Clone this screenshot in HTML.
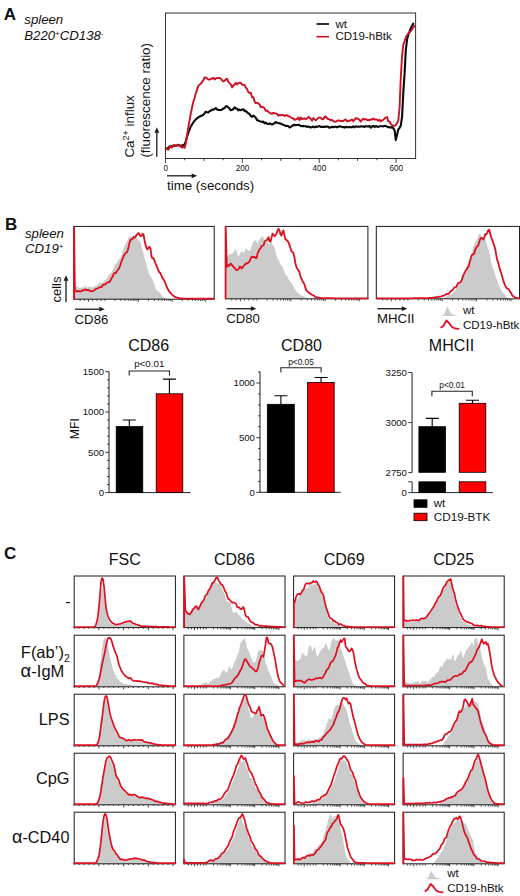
<!DOCTYPE html>
<html><head><meta charset="utf-8"><title>Figure</title>
<style>
html,body{margin:0;padding:0;background:#fff;}
body{width:520px;height:896px;overflow:hidden;font-family:"Liberation Sans",sans-serif;}
svg{display:block;font-family:"Liberation Sans",sans-serif;}
svg text{fill:#111;}
</style></head>
<body>
<svg width="520" height="896" viewBox="0 0 520 896">
<rect x="0" y="0" width="520" height="896" fill="#ffffff"/>
<text x="3.8" y="20" font-size="17" text-anchor="start" font-weight="bold" font-style="normal" >A</text>
<text x="24.3" y="23.6" font-size="13.2" text-anchor="start" font-weight="normal" font-style="italic" >spleen</text>
<text x="24.3" y="40.2" font-size="13.2" text-anchor="start" font-weight="normal" font-style="italic" >B220<tspan font-size="8" dy="-4.5">+</tspan><tspan dy="4.5">CD138</tspan><tspan font-size="8" dy="-4.5">-</tspan></text>
<path d="M165.8 148.7 L167.1 148.4 L168.3 147.7 L169.6 146.4 L170.8 146.6 L172.1 146 L173.3 145.9 L174.6 145.5 L175.8 145.7 L177.1 145.3 L178.3 144.8 L179.6 145.7 L180.8 145.6 L182.1 145.8 L183.3 144.9 L184.6 144.4 L185.8 141.5 L187.1 136.7 L188.3 132.9 L189.6 129.7 L190.8 126.5 L192.1 124.4 L193.3 122.5 L194.6 120.7 L195.8 119.4 L197.1 118.3 L198.3 117.3 L199.6 116.7 L200.8 115.8 L202.1 115.6 L203.3 114.7 L204.6 113.5 L205.8 111.7 L207.1 112.3 L208.3 112.5 L209.6 111.1 L210.8 110.7 L212.1 109.5 L213.3 109.8 L214.6 109 L215.8 108 L217.1 109.6 L218.3 109.9 L219.6 110 L220.8 110.2 L222.1 109.5 L223.3 108.6 L224.6 108.1 L225.8 106.2 L227.1 106.2 L228.3 107.4 L229.6 108.7 L230.8 110.3 L232.1 109.8 L233.3 109.2 L234.6 107.3 L235.8 108.6 L237.1 108.6 L238.3 110.4 L239.6 109.6 L240.8 110.2 L242.1 109.6 L243.3 109.2 L244.6 111.1 L245.8 110.9 L247.1 112.2 L248.3 113.4 L249.6 114.1 L250.8 116 L252.1 116.9 L253.3 115.5 L254.6 116.5 L255.8 117.7 L257.1 120.2 L258.3 120.5 L259.6 121.1 L260.8 121.6 L262.1 121.9 L263.3 121.6 L264.6 123.3 L265.8 122.5 L267.1 123.7 L268.3 124 L269.6 123.4 L270.8 124 L272.1 124.5 L273.3 123.8 L274.6 123.2 L275.8 122 L277.1 122.7 L278.3 123 L279.6 123.4 L280.8 123.6 L282.1 124.5 L283.3 124.6 L284.6 125.3 L285.8 126 L287.1 125.7 L288.3 126.3 L289.6 127.5 L290.8 126.9 L292.1 125.9 L293.3 125.1 L294.6 124.9 L295.8 125.3 L297.1 125 L298.3 124.9 L299.6 125.1 L300.8 126 L302.1 126.1 L303.3 125.9 L304.6 126.2 L305.8 126.3 L307.1 126.9 L308.3 126.5 L309.6 127.2 L310.8 127.4 L312.1 127.1 L313.3 126.5 L314.6 127.4 L315.8 126.5 L317.1 126.9 L318.3 126.4 L319.6 126 L320.8 126.9 L322.1 126.9 L323.3 126.8 L324.6 126.9 L325.8 126.6 L327.1 126.5 L328.3 126.8 L329.6 127.8 L330.8 127.3 L332.1 126.7 L333.3 127.2 L334.6 126.8 L335.8 126.8 L337.1 127.4 L338.3 126.8 L339.6 126.2 L340.8 126.6 L342.1 127 L343.3 127.1 L344.6 127.6 L345.8 126.7 L347.1 127.3 L348.3 127.2 L349.6 126.9 L350.8 127.3 L352.1 127.1 L353.3 126.4 L354.6 127.3 L355.8 126.2 L357.1 126.7 L358.3 126.6 L359.6 126.7 L360.8 126.2 L362.1 126.5 L363.3 126.4 L364.6 126.9 L365.8 126.1 L367.1 126.5 L368.3 126.4 L369.6 125.9 L370.8 127.7 L372.1 126.5 L373.3 125.8 L374.6 127.1 L375.8 126 L377.1 126.7 L378.3 126.9 L379.6 126.2 L380.8 126.3 L382.1 126.3 L383.3 126.4 L384.6 125.8 L385.8 126 L387.1 126.6 L388.3 127.2 L389.6 127.1 L390.8 127.7 L392.1 127 L393.3 128.2 L394.6 130.4 L395.8 140.1 L397.1 134.5 L398.3 129.5 L399.6 127.8 L400.8 125.5 L402.1 116.5 L403.3 92.6 L404.6 73.2 L405.8 50.1 L407.1 39.2 L408.3 34.7 L409.6 31.4 L410.8 28 L412.1 25.8 L413.2 23.7" fill="none" stroke="#0a0a0a" stroke-width="2.1" stroke-linejoin="round" stroke-linecap="round"/>
<path d="M165.8 149.5 L167.1 148.5 L168.3 149.8 L169.6 147.1 L170.8 146.8 L172.1 147.6 L173.3 145.3 L174.6 145.2 L175.8 145.8 L177.1 145.5 L178.3 145.1 L179.6 146 L180.8 146.3 L182.1 147.7 L183.3 146.6 L184.6 147.9 L185.8 143.2 L187.1 134.7 L188.3 127.4 L189.6 120.1 L190.8 113.5 L192.1 107.2 L193.3 102.1 L194.6 97.7 L195.8 93.2 L197.1 89.6 L198.3 86.1 L199.6 84.5 L200.8 83.8 L202.1 81.9 L203.3 80.4 L204.6 77.3 L205.8 77.6 L207.1 78.6 L208.3 79.6 L209.6 79.6 L210.8 78.8 L212.1 78.8 L213.3 77.7 L214.6 79.4 L215.8 78.4 L217.1 78 L218.3 78.1 L219.6 77.9 L220.8 78.5 L222.1 80.4 L223.3 81.5 L224.6 80.8 L225.8 79.3 L227.1 78.7 L228.3 81.9 L229.6 83.1 L230.8 84.4 L232.1 87.4 L233.3 85.4 L234.6 84.6 L235.8 82.8 L237.1 84.5 L238.3 83.2 L239.6 82.6 L240.8 82.7 L242.1 84.7 L243.3 84.6 L244.6 85.1 L245.8 87.7 L247.1 89.2 L248.3 92 L249.6 93 L250.8 92.7 L252.1 97.3 L253.3 97.1 L254.6 101.5 L255.8 103.2 L257.1 102.7 L258.3 103.4 L259.6 104.5 L260.8 107.1 L262.1 107 L263.3 107.3 L264.6 108.3 L265.8 110.9 L267.1 110.5 L268.3 111.8 L269.6 112.7 L270.8 113.5 L272.1 113.8 L273.3 112.8 L274.6 113.4 L275.8 113.4 L277.1 113.9 L278.3 115.7 L279.6 115 L280.8 115.4 L282.1 115 L283.3 115.1 L284.6 116.1 L285.8 115.2 L287.1 115.3 L288.3 116.2 L289.6 116.3 L290.8 117.5 L292.1 118.3 L293.3 118.3 L294.6 120 L295.8 119.3 L297.1 119 L298.3 117.5 L299.6 120.2 L300.8 117.5 L302.1 119.2 L303.3 118.7 L304.6 118.3 L305.8 119.3 L307.1 118.5 L308.3 116.9 L309.6 117.8 L310.8 119.2 L312.1 120.7 L313.3 118.1 L314.6 119.4 L315.8 120.3 L317.1 119.1 L318.3 117.9 L319.6 117.4 L320.8 117.8 L322.1 119.2 L323.3 119.2 L324.6 116.8 L325.8 116.4 L327.1 118.5 L328.3 118.9 L329.6 119.6 L330.8 120.2 L332.1 119.9 L333.3 121.2 L334.6 121.7 L335.8 121.9 L337.1 120.6 L338.3 120.4 L339.6 120.7 L340.8 121 L342.1 121 L343.3 121.1 L344.6 119.9 L345.8 119.4 L347.1 121.4 L348.3 120.8 L349.6 120.9 L350.8 120.1 L352.1 119.5 L353.3 121.2 L354.6 119.9 L355.8 118.1 L357.1 118.5 L358.3 118.9 L359.6 120 L360.8 121.6 L362.1 119.8 L363.3 118.7 L364.6 119.6 L365.8 119.1 L367.1 120.1 L368.3 120 L369.6 120.2 L370.8 119.3 L372.1 119.6 L373.3 118.5 L374.6 119.5 L375.8 119.5 L377.1 119.4 L378.3 120.8 L379.6 119.8 L380.8 121.3 L382.1 120.4 L383.3 119.8 L384.6 118.6 L385.8 117.6 L387.1 117.1 L388.3 121.4 L389.6 121.4 L390.8 124.2 L392.1 125 L393.3 125.7 L394.6 125.9 L395.8 124.9 L397.1 123.1 L398.3 120.5 L399.6 107 L400.8 77.5 L402.1 55.3 L403.3 44.6 L404.6 41 L405.8 37.5 L407.1 35.1 L408.3 33.7 L409.6 32.4 L410.8 31 L412.1 29.3 L413.3 27.5 L414.6 25.8 L414.6 25.7" fill="none" stroke="#cc1122" stroke-width="1.9" stroke-linejoin="round" stroke-linecap="round"/>
<rect x="165.5" y="13" width="250.1" height="145.5" fill="none" stroke="#333" stroke-width="1"/>
<path d="M165.5 158.5v4.4M184.7 158.5v1.8M203.9 158.5v2.4M223.1 158.5v1.8M242.4 158.5v4.4M261.6 158.5v1.8M280.8 158.5v2.4M300 158.5v1.8M319.2 158.5v4.4M338.4 158.5v1.8M357.6 158.5v2.4M376.9 158.5v1.8M396.1 158.5v4.4" stroke="#333" stroke-width="0.9" fill="none"/>
<text x="165.7" y="171.2" font-size="8.2" text-anchor="middle" font-weight="normal" font-style="normal" fill="#222">0</text>
<text x="242.6" y="171.2" font-size="8.2" text-anchor="middle" font-weight="normal" font-style="normal" fill="#222">200</text>
<text x="319.4" y="171.2" font-size="8.2" text-anchor="middle" font-weight="normal" font-style="normal" fill="#222">400</text>
<text x="396.3" y="171.2" font-size="8.2" text-anchor="middle" font-weight="normal" font-style="normal" fill="#222">600</text>
<path d="M316.5 24H329" stroke="#0a0a0a" stroke-width="1.7"/>
<path d="M316.5 36.7H329" stroke="#cc1122" stroke-width="1.6"/>
<text x="335.5" y="27.5" font-size="11.5" text-anchor="start" font-weight="normal" font-style="normal" >wt</text>
<text x="335.5" y="40.3" font-size="11.5" text-anchor="start" font-weight="normal" font-style="normal" >CD19-hBtk</text>
<text transform="translate(133.6,157.6) rotate(-90)" font-size="13.4">Ca<tspan font-size="9" dy="-4.5">2+</tspan><tspan dy="4.5"> influx</tspan></text>
<text transform="translate(149.6,157.6) rotate(-90)" font-size="13.4">(fluorescence ratio)</text>
<path d="M156.8 156.8V131.7" stroke="#1a1a1a" stroke-width="1.3" fill="none"/>
<path d="M156.8 127.2L154.4 132.7L159.2 132.7Z" fill="#1a1a1a"/>
<path d="M167 175.8H192.7" stroke="#1a1a1a" stroke-width="1.3" fill="none"/>
<path d="M197.2 175.8L191.7 173.4L191.7 178.2Z" fill="#1a1a1a"/>
<text x="167" y="189.6" font-size="13.3" text-anchor="start" font-weight="normal" font-style="normal" >time (seconds)</text>
<text x="5" y="229.8" font-size="17" text-anchor="start" font-weight="bold" font-style="normal" >B</text>
<text x="25" y="237.7" font-size="13.2" text-anchor="start" font-weight="normal" font-style="italic" >spleen</text>
<text x="25" y="253" font-size="13.2" text-anchor="start" font-weight="normal" font-style="italic" >CD19<tspan font-size="8" dy="-4.5">+</tspan></text>
<text transform="translate(60.5,302.5) rotate(-90)" font-size="13">cells</text>
<path d="M66 302.3V279.7" stroke="#1a1a1a" stroke-width="1.3" fill="none"/>
<path d="M66 275.2L63.6 280.7L68.4 280.7Z" fill="#1a1a1a"/>
<path d="M74.6 299.2 L74.6 286.9 L75.6 287.1 L76.6 285.9 L77.6 286.4 L78.6 287.4 L79.6 287.9 L80.6 288.3 L81.6 287.1 L82.5 287.4 L83.5 287.7 L84.5 286.2 L85.5 285.6 L86.5 287.4 L87.5 287.5 L88.5 286.4 L89.5 287 L90.5 286.7 L91.5 287 L92.5 287.3 L93.5 287.2 L94.5 286.8 L95.5 285.8 L96.5 285.4 L97.5 285 L98.4 283.7 L99.4 282.8 L100.4 282.5 L101.4 283.3 L102.4 282.6 L103.4 281.6 L104.4 280.5 L105.4 279.4 L106.4 279.3 L107.4 277.6 L108.4 275.3 L109.4 274.6 L110.4 273.7 L111.4 272.5 L112.4 270.5 L113.4 268.7 L114.3 265.6 L115.3 263.8 L116.3 263.8 L117.3 261.8 L118.3 259.9 L119.3 258.9 L120.3 257.7 L121.3 255.4 L122.3 252.4 L123.3 249.3 L124.3 245.9 L125.3 243.9 L126.3 242.6 L127.3 241.2 L128.3 238.1 L129.3 237 L130.2 236.2 L131.2 236.6 L132.2 236.8 L133.2 236.4 L134.2 235.9 L135.2 235.4 L136.2 234.9 L137.2 237.3 L138.2 240 L139.2 240.8 L140.2 241.4 L141.2 244.7 L142.2 249.1 L143.2 252.9 L144.2 256.5 L145.2 260.6 L146.2 263.5 L147.1 267.4 L148.1 270.4 L149.1 273.7 L150.1 275.9 L151.1 277.1 L152.1 278.6 L153.1 281.1 L154.1 283.8 L155.1 286.7 L156.1 289.5 L157.1 290.7 L158.1 291 L159.1 292 L160.1 293 L161.1 294.3 L162.1 295.9 L163 297.1 L164 297.2 L165 297.8 L166 298.2 L167 298.5 L168 298.8 L169 298.9 L170 298.9 L170 299.2 Z" fill="#cbcbcb" stroke="none"/>
<path d="M88.5 299.5v2.2M138.4 299.5v2.2M172.1 299.5v2.2M205.8 299.5v2.2M114.9 299.5v1.4M120.8 299.5v1.4M125 299.5v1.4M128.3 299.5v1.4M130.9 299.5v1.4M133.2 299.5v1.4M135.1 299.5v1.4M136.8 299.5v1.4M148.5 299.5v1.4M154.4 299.5v1.4M158.6 299.5v1.4M161.9 299.5v1.4M164.5 299.5v1.4M166.8 299.5v1.4M168.8 299.5v1.4M170.5 299.5v1.4M182.2 299.5v1.4M188.1 299.5v1.4M192.3 299.5v1.4M195.6 299.5v1.4M198.2 299.5v1.4M200.5 299.5v1.4M202.4 299.5v1.4M204.2 299.5v1.4M92.8 299.5v1.4M97 299.5v1.4M101.2 299.5v1.4M104.8 299.5v1.4M84.3 299.5v1.4M80.1 299.5v1.4" stroke="#111" stroke-width="0.8" fill="none"/>
<rect x="73.8" y="226.4" width="140.4" height="72.8" fill="none" stroke="#1a1a1a" stroke-width="1"/>
<path d="M74.1 298.9 L74.1 226.8 L74.9 291.1 L75.9 290.9 L76.9 291.7 L77.9 291.1 L78.9 290.9 L79.9 291.7 L80.9 291.4 L81.9 290.4 L82.9 290.8 L83.9 290.1 L84.9 289.6 L85.8 289.5 L86.8 290.4 L87.8 290 L88.8 290.2 L89.8 290.9 L90.8 291 L91.8 291.3 L92.8 291.3 L93.8 290.6 L94.8 289.8 L95.8 288.8 L96.8 288.7 L97.8 288.4 L98.8 287.8 L99.8 287.2 L100.8 287.1 L101.8 286.8 L102.8 285 L103.8 284.5 L104.8 284.6 L105.7 283.8 L106.7 283.2 L107.7 282.3 L108.7 282 L109.7 281.9 L110.7 280 L111.7 278 L112.7 276.6 L113.7 273.9 L114.7 272.8 L115.7 273.2 L116.7 271.6 L117.7 269.9 L118.7 268.8 L119.7 266.9 L120.7 264 L121.7 261 L122.7 258.7 L123.7 256 L124.7 254.2 L125.6 253.1 L126.6 252.5 L127.6 250.6 L128.6 246.9 L129.6 242.6 L130.6 239.9 L131.6 239.4 L132.6 238.9 L133.6 236.9 L134.6 237.7 L135.6 236.5 L136.6 234.6 L137.6 234.1 L138.6 233 L139.6 234.9 L140.6 236.2 L141.6 235.9 L142.6 233.6 L143.6 234.8 L144.6 240.6 L145.5 244.9 L146.5 248 L147.5 249.4 L148.5 247.9 L149.5 246.6 L150.5 248.5 L151.5 256.6 L152.5 258.4 L153.5 258.2 L154.5 260.6 L155.5 263.3 L156.5 265.7 L157.5 268.2 L158.5 270.7 L159.5 272.5 L160.5 273.3 L161.5 275.7 L162.5 278.1 L163.5 279.4 L164.4 280.8 L165.4 283.3 L166.4 286 L167.4 288.2 L168.4 290 L169.4 291.9 L170.4 292.5 L171.4 293.9 L172.4 294.9 L173.4 295.8 L174.4 296.4 L175.4 297.2 L176.4 297.5 L177.4 297.7 L178.4 298 L179.4 298.2 L180.4 298.3 L181.4 298.4 L182.4 298.5 L183.4 298.6 L184.3 298.6 L185.3 298.6 L186.3 298.6 L187.3 298.6 L188.3 298.6 L189.3 298.6 L190.3 298.6 L191.3 298.6 L192.3 298.6 L193.3 298.6 L194.3 298.6 L195.3 298.6 L196.3 298.6 L197.3 298.6 L198.3 298.6 L199.3 298.6 L200.3 298.6 L201.3 298.6 L202.3 298.6 L203.3 298.6 L204.2 298.6 L205.2 298.6 L206.2 298.6 L207.2 298.6 L208.2 298.6 L209.2 298.6 L210.2 298.6 L211.2 298.6 L212.2 298.6 L213.2 298.6 L214.2 298.6" fill="none" stroke="#dd0f20" stroke-width="1.8" stroke-linejoin="round" stroke-linecap="round"/>
<path d="M226.8 298.8 L226.8 257.6 L227.8 256.1 L228.8 254.6 L229.8 253.9 L230.8 254.2 L231.8 253.4 L232.7 253.6 L233.7 251.4 L234.7 250.1 L235.7 249.8 L236.7 251 L237.7 255.3 L238.7 256.6 L239.7 254.3 L240.7 252 L241.7 251 L242.7 252.4 L243.6 252.4 L244.6 251.8 L245.6 248.8 L246.6 248.4 L247.6 250.5 L248.6 250.5 L249.6 251.3 L250.6 248.9 L251.6 246.3 L252.6 243.6 L253.5 241.3 L254.5 241.2 L255.5 239.8 L256.5 241.3 L257.5 243.9 L258.5 241.5 L259.5 239.4 L260.5 237.7 L261.5 237.3 L262.5 235.5 L263.5 237.3 L264.4 242.3 L265.4 242.7 L266.4 241.4 L267.4 241.8 L268.4 244.1 L269.4 244 L270.4 242.3 L271.4 241.2 L272.4 244.5 L273.4 246 L274.4 246.8 L275.3 250.7 L276.3 255.5 L277.3 257.9 L278.3 259.3 L279.3 261.5 L280.3 264.2 L281.3 265.5 L282.3 266.5 L283.3 268.4 L284.3 272.1 L285.3 274.1 L286.2 275.2 L287.2 276.1 L288.2 278.5 L289.2 280.3 L290.2 281.5 L291.2 283.1 L292.2 283.5 L293.2 286.3 L294.2 288.8 L295.2 289.3 L296.1 291 L297.1 292.6 L298.1 292.9 L299.1 293.8 L300.1 294.9 L301.1 295.5 L302.1 295.4 L303.1 295.9 L304.1 296.8 L305.1 297.2 L306.1 297.6 L307 297.9 L308 298.1 L309 298.3 L310 298.4 L311 298.5 L312 298.5 L312 298.8 Z" fill="#cbcbcb" stroke="none"/>
<path d="M240.4 299.1v2.2M290.9 299.1v2.2M325.1 299.1v2.2M359.3 299.1v2.2M267.1 299.1v1.4M273.1 299.1v1.4M277.4 299.1v1.4M280.7 299.1v1.4M283.4 299.1v1.4M285.7 299.1v1.4M287.6 299.1v1.4M289.4 299.1v1.4M301.2 299.1v1.4M307.2 299.1v1.4M311.5 299.1v1.4M314.8 299.1v1.4M317.5 299.1v1.4M319.8 299.1v1.4M321.8 299.1v1.4M323.5 299.1v1.4M335.4 299.1v1.4M341.4 299.1v1.4M345.7 299.1v1.4M349 299.1v1.4M351.7 299.1v1.4M354 299.1v1.4M356 299.1v1.4M357.7 299.1v1.4M244.6 299.1v1.4M248.9 299.1v1.4M253.2 299.1v1.4M256.8 299.1v1.4M236.1 299.1v1.4M231.8 299.1v1.4" stroke="#111" stroke-width="0.8" fill="none"/>
<rect x="225.4" y="226.4" width="142.5" height="72.4" fill="none" stroke="#1a1a1a" stroke-width="1"/>
<path d="M225.7 298.5 L225.7 226.8 L226.8 266.8 L227.8 264.6 L228.8 265.9 L229.8 265.3 L230.8 263.5 L231.8 265.1 L232.8 265.8 L233.8 267.5 L234.7 267.9 L235.7 269.6 L236.7 270.2 L237.7 269.7 L238.7 268.9 L239.7 266.6 L240.7 267.1 L241.7 268.6 L242.7 267.1 L243.7 265.8 L244.7 265.1 L245.7 263.4 L246.7 263.7 L247.7 262.9 L248.7 262.6 L249.7 261 L250.6 258.8 L251.6 256.6 L252.6 257.2 L253.6 257 L254.6 256.9 L255.6 258.2 L256.6 258.1 L257.6 253.4 L258.6 251.5 L259.6 249.2 L260.6 248.3 L261.6 245.8 L262.6 245.7 L263.6 245.3 L264.6 241.8 L265.6 240.3 L266.5 240.4 L267.5 239.4 L268.5 237.1 L269.5 241.3 L270.5 241.6 L271.5 237.9 L272.5 233.6 L273.5 234.6 L274.5 236.2 L275.5 235.4 L276.5 233.6 L277.5 230.7 L278.5 228.7 L279.5 230.4 L280.5 234.5 L281.5 235.6 L282.4 232.1 L283.4 230.4 L284.4 235.3 L285.4 239.4 L286.4 239.9 L287.4 240.7 L288.4 242.2 L289.4 244.9 L290.4 247.8 L291.4 251.1 L292.4 252 L293.4 252.9 L294.4 257 L295.4 263.3 L296.4 267.1 L297.4 268.7 L298.3 270.5 L299.3 271.5 L300.3 275.8 L301.3 278.7 L302.3 280.6 L303.3 282.3 L304.3 284.1 L305.3 287.4 L306.3 290.1 L307.3 291.3 L308.3 292 L309.3 293.2 L310.3 293.5 L311.3 294.5 L312.3 294.9 L313.2 295.1 L314.2 296 L315.2 296.9 L316.2 297.2 L317.2 297.5 L318.2 297.7 L319.2 297.9 L320.2 298 L321.2 298.1 L322.2 298.2 L323.2 298.2 L324.2 298.2 L325.2 298.2 L326.2 298.2 L327.2 298.2 L328.2 298.2 L329.1 298.2 L330.1 298.2 L331.1 298.2 L332.1 298.2 L333.1 298.2 L334.1 298.3 L335.1 298.3 L336.1 298.3 L337.1 298.3 L338.1 298.3 L339.1 298.3 L340.1 298.3 L341.1 298.3 L342.1 298.3 L343.1 298.3 L344.1 298.3 L345 298.3 L346 298.3 L347 298.3 L348 298.3 L349 298.3 L350 298.3 L351 298.3 L352 298.3 L353 298.3 L354 298.3 L355 298.3 L356 298.3 L357 298.3 L358 298.3 L359 298.3 L360 298.3 L360.9 298.3 L361.9 298.3 L362.9 298.3 L363.9 298.3 L364.9 298.3 L365.9 298.3 L366.9 298.3 L367.9 298.3" fill="none" stroke="#dd0f20" stroke-width="1.8" stroke-linejoin="round" stroke-linecap="round"/>
<path d="M440 298.8 L440 298.5 L441 298.5 L442 298.3 L443 298.1 L443.9 297.8 L444.9 297.5 L445.9 297.1 L446.9 296.6 L447.9 295.4 L448.9 294.7 L449.9 294.8 L450.8 294.8 L451.8 294.1 L452.8 293.1 L453.8 292.1 L454.8 290.9 L455.8 289.3 L456.8 287.9 L457.7 286.2 L458.7 284.3 L459.7 283 L460.7 280.7 L461.7 277.9 L462.7 275.1 L463.7 274 L464.6 272.1 L465.6 268.9 L466.6 265.8 L467.6 263.1 L468.6 262.4 L469.6 259.6 L470.6 256 L471.5 254.2 L472.5 250.1 L473.5 246.3 L474.5 244 L475.5 241.5 L476.5 240.9 L477.4 238.9 L478.4 235.1 L479.4 233.7 L480.4 234.8 L481.4 236 L482.4 237.8 L483.4 239.1 L484.3 238.4 L485.3 238.6 L486.3 242.8 L487.3 246.1 L488.3 248.4 L489.3 251.3 L490.3 257.2 L491.2 262.5 L492.2 266 L493.2 269.2 L494.2 271.3 L495.2 275.3 L496.2 277.7 L497.2 279.9 L498.1 283.5 L499.1 286.3 L500.1 288.2 L501.1 289.8 L502.1 291.8 L503.1 293.1 L504.1 293.7 L505 295.4 L506 296.4 L507 297.3 L508 298 L508 298.8 Z" fill="#cbcbcb" stroke="none"/>
<path d="M391.3 299.1v2.2M442.2 299.1v2.2M476.5 299.1v2.2M510.9 299.1v2.2M418.2 299.1v1.4M424.2 299.1v1.4M428.5 299.1v1.4M431.8 299.1v1.4M434.6 299.1v1.4M436.9 299.1v1.4M438.8 299.1v1.4M440.6 299.1v1.4M452.5 299.1v1.4M458.5 299.1v1.4M462.8 299.1v1.4M466.1 299.1v1.4M468.9 299.1v1.4M471.2 299.1v1.4M473.1 299.1v1.4M474.9 299.1v1.4M486.9 299.1v1.4M492.9 299.1v1.4M497.2 299.1v1.4M500.5 299.1v1.4M503.2 299.1v1.4M505.5 299.1v1.4M507.5 299.1v1.4M509.3 299.1v1.4M395.6 299.1v1.4M399.9 299.1v1.4M404.2 299.1v1.4M407.9 299.1v1.4M387 299.1v1.4M382.7 299.1v1.4" stroke="#111" stroke-width="0.8" fill="none"/>
<rect x="376.3" y="226.4" width="143.2" height="72.4" fill="none" stroke="#1a1a1a" stroke-width="1"/>
<path d="M377 298.3 L378 298.3 L379 298.3 L380 298.3 L381 298.3 L382 298.3 L383 298.3 L384 298.3 L384.9 298.3 L385.9 298.3 L386.9 298.3 L387.9 298.3 L388.9 298.3 L389.9 298.3 L390.9 298.3 L391.9 298.3 L392.9 298.3 L393.9 298.3 L394.9 298.3 L395.9 298.3 L396.9 298.3 L397.9 298.3 L398.8 298.3 L399.8 298.3 L400.8 298.3 L401.8 298.3 L402.8 298.3 L403.8 298.3 L404.8 298.3 L405.8 298.3 L406.8 298.3 L407.8 298.3 L408.8 298.3 L409.8 298.3 L410.8 298.3 L411.8 298.3 L412.7 298.3 L413.7 298.2 L414.7 298.2 L415.7 298.2 L416.7 298.2 L417.7 298.2 L418.7 298.2 L419.7 298.2 L420.7 298.2 L421.7 298.2 L422.7 298.2 L423.7 298.2 L424.7 298.2 L425.7 298.2 L426.7 298.2 L427.6 298.1 L428.6 298.1 L429.6 298 L430.6 297.9 L431.6 297.8 L432.6 297.7 L433.6 297.6 L434.6 297.5 L435.6 297.4 L436.6 297.2 L437.6 297.1 L438.6 296.9 L439.6 296.7 L440.6 296.6 L441.5 296.3 L442.5 295.8 L443.5 295.7 L444.5 295.3 L445.5 294.6 L446.5 294 L447.5 293.9 L448.5 293.8 L449.5 292.7 L450.5 291.2 L451.5 290.8 L452.5 290.3 L453.5 288.7 L454.5 287.3 L455.4 287.1 L456.4 286.6 L457.4 284.5 L458.4 282.8 L459.4 282.6 L460.4 282.2 L461.4 280.8 L462.4 278.1 L463.4 275.1 L464.4 273.2 L465.4 271 L466.4 269.9 L467.4 267.7 L468.4 267.1 L469.3 263.9 L470.3 260 L471.3 256.3 L472.3 254.5 L473.3 254.6 L474.3 253.2 L475.3 249.4 L476.3 247.7 L477.3 246.3 L478.3 245.3 L479.3 241.7 L480.3 238.8 L481.3 237.8 L482.3 238.1 L483.3 239.5 L484.2 237.9 L485.2 234.2 L486.2 234.6 L487.2 232.9 L488.2 230.4 L489.2 229.6 L490.2 233.4 L491.2 237.5 L492.2 239.7 L493.2 242.8 L494.2 245.8 L495.2 248.7 L496.2 254.9 L497.2 260 L498.1 262.1 L499.1 266.1 L500.1 270.1 L501.1 272.6 L502.1 276 L503.1 279.7 L504.1 282.9 L505.1 285.3 L506.1 287.3 L507.1 288.5 L508.1 288.7 L509.1 289.8 L510.1 291.8 L511.1 293.1 L512 295 L513 296.1 L514 296.8 L515 297.3 L516 297.7 L517 298 L518 298.2 L519 298.3" fill="none" stroke="#dd0f20" stroke-width="1.8" stroke-linejoin="round" stroke-linecap="round"/>
<path d="M75 309.2H100.3" stroke="#1a1a1a" stroke-width="1.3" fill="none"/>
<path d="M104.8 309.2L99.3 306.8L99.3 311.6Z" fill="#1a1a1a"/>
<text x="74.6" y="323.5" font-size="13.2" text-anchor="start" font-weight="normal" font-style="normal" >CD86</text>
<path d="M226.6 308.7H251.9" stroke="#1a1a1a" stroke-width="1.3" fill="none"/>
<path d="M256.4 308.7L250.9 306.3L250.9 311.1Z" fill="#1a1a1a"/>
<text x="226.2" y="323" font-size="13.2" text-anchor="start" font-weight="normal" font-style="normal" >CD80</text>
<path d="M377.5 308.7H402.8" stroke="#1a1a1a" stroke-width="1.3" fill="none"/>
<path d="M407.3 308.7L401.8 306.3L401.8 311.1Z" fill="#1a1a1a"/>
<text x="377.1" y="322.7" font-size="13.2" text-anchor="start" font-weight="normal" font-style="normal" >MHCII</text>
<path d="M441.2 316 L444 314.8 L445.8 310 L447.2 306.6 L448.8 309.5 L451 313.5 L454.5 315.3 L458.5 316 Z" fill="#cbcbcb"/>
<path d="M441.2 327.4 L443.5 325.8 L446.4 320.5 L449 323 L452 327 L455 328.3 L458.5 328.9" fill="none" stroke="#dd0f20" stroke-width="1.8" stroke-linejoin="round" stroke-linecap="round"/>
<text x="463" y="314.3" font-size="11.5" text-anchor="start" font-weight="normal" font-style="normal" >wt</text>
<text x="463" y="329" font-size="11.5" text-anchor="start" font-weight="normal" font-style="normal" >CD19-hBtk</text>
<text x="148.6" y="351.4" font-size="16" text-anchor="middle" font-weight="normal" font-style="normal" >CD86</text>
<path d="M109 371.4V492.6H190.7" stroke="#222" stroke-width="1" fill="none"/>
<path d="M109 492.6h-3.7M109 484.5h-1.9M109 476.5h-1.9M109 468.4h-1.9M109 460.4h-1.9M109 452.3h-3.7M109 444.2h-1.9M109 436.2h-1.9M109 428.1h-1.9M109 420.1h-1.9M109 412h-3.7M109 403.9h-1.9M109 395.9h-1.9M109 387.8h-1.9M109 379.8h-1.9M109 371.7h-3.7" stroke="#222" stroke-width="0.9" fill="none"/>
<text x="104.1" y="496" font-size="9.6" text-anchor="end" font-weight="normal" font-style="normal" fill="#222">0</text>
<text x="104.1" y="455.7" font-size="9.6" text-anchor="end" font-weight="normal" font-style="normal" fill="#222">500</text>
<text x="104.1" y="415.4" font-size="9.6" text-anchor="end" font-weight="normal" font-style="normal" fill="#222">1000</text>
<text x="104.1" y="375.1" font-size="9.6" text-anchor="end" font-weight="normal" font-style="normal" fill="#222">1500</text>
<rect x="116.2" y="426.5" width="26.6" height="66.1" fill="#000" stroke="#000" stroke-width="0.8"/>
<path d="M129.3 426.5V420M122.8 420H135.8" stroke="#000" stroke-width="1.1" fill="none"/>
<path d="M169.4 393.8V379.1M162.9 379.1H175.9" stroke="#000" stroke-width="1.1" fill="none"/>
<rect x="156.2" y="393.8" width="26.6" height="98.8" fill="#fe0000" stroke="#000" stroke-width="0.8"/>
<path d="M129.2 375.6V371H169.5V375.6" stroke="#222" stroke-width="1.1" fill="none"/>
<text x="149.3" y="367.3" font-size="9.8" text-anchor="middle" font-weight="normal" font-style="normal" fill="#222">p&lt;0.01</text>
<text transform="translate(78.5,439.2) rotate(-90)" font-size="12.2">MFI</text>
<text x="301.5" y="351.4" font-size="16" text-anchor="middle" font-weight="normal" font-style="normal" >CD80</text>
<path d="M260 371.4V492.3H340.7" stroke="#222" stroke-width="1" fill="none"/>
<path d="M260 492.3h-3.7M260 481.4h-1.9M260 470.4h-1.9M260 459.5h-1.9M260 448.6h-1.9M260 437.7h-3.7M260 426.7h-1.9M260 415.8h-1.9M260 404.9h-1.9M260 393.9h-1.9M260 383h-3.7M260 372.1h-1.9" stroke="#222" stroke-width="0.9" fill="none"/>
<text x="254.9" y="495.7" font-size="9.6" text-anchor="end" font-weight="normal" font-style="normal" fill="#222">0</text>
<text x="254.9" y="441.1" font-size="9.6" text-anchor="end" font-weight="normal" font-style="normal" fill="#222">500</text>
<text x="254.9" y="386.4" font-size="9.6" text-anchor="end" font-weight="normal" font-style="normal" fill="#222">1000</text>
<rect x="267.3" y="404.3" width="27" height="88" fill="#000" stroke="#000" stroke-width="0.8"/>
<path d="M280.9 404.3V395.8M274.4 395.8H287.4" stroke="#000" stroke-width="1.1" fill="none"/>
<path d="M321.1 382.4V377.5M314.6 377.5H327.6" stroke="#000" stroke-width="1.1" fill="none"/>
<rect x="307.6" y="382.4" width="26.6" height="109.9" fill="#fe0000" stroke="#000" stroke-width="0.8"/>
<path d="M280.9 372.6V367.8H321.1V372.6" stroke="#222" stroke-width="1.1" fill="none"/>
<text x="301" y="364.8" font-size="8.3" text-anchor="middle" font-weight="normal" font-style="normal" fill="#222">p&lt;0.05</text>
<text x="451.5" y="351.2" font-size="16" text-anchor="middle" font-weight="normal" font-style="normal" >MHCII</text>
<path d="M412.1 372.5V472.6M412.1 481.8V492.6H492.8" stroke="#222" stroke-width="1" fill="none"/>
<path d="M412.1 372.5h-3.9M412.1 422.6h-3.9M412.1 472.6h-3.9M412.1 481.8h-3.9M412.1 492.6h-3.9" stroke="#222" stroke-width="0.9" fill="none"/>
<text x="406.9" y="375.9" font-size="9.6" text-anchor="end" font-weight="normal" font-style="normal" fill="#222">3250</text>
<text x="406.9" y="426" font-size="9.6" text-anchor="end" font-weight="normal" font-style="normal" fill="#222">3000</text>
<text x="406.9" y="476" font-size="9.6" text-anchor="end" font-weight="normal" font-style="normal" fill="#222">2750</text>
<text x="406.9" y="496" font-size="9.6" text-anchor="end" font-weight="normal" font-style="normal" fill="#222">0</text>
<rect x="418.9" y="426.7" width="26.6" height="45.6" fill="#000" stroke="#000" stroke-width="0.8"/>
<rect x="418.9" y="481.8" width="26.6" height="10.8" fill="#000" stroke="#000" stroke-width="0.8"/>
<path d="M432.2 426.7V418.4M425.7 418.4H438.7" stroke="#000" stroke-width="1.1" fill="none"/>
<path d="M472.5 403.3V400.2M466 400.2H479" stroke="#000" stroke-width="1.1" fill="none"/>
<rect x="459.2" y="403.3" width="26.6" height="69" fill="#fe0000" stroke="#000" stroke-width="0.8"/>
<rect x="459.2" y="481.8" width="26.6" height="10.8" fill="#fe0000" stroke="#000" stroke-width="0.8"/>
<path d="M431.9 396.2V391.3H472.3V396.2" stroke="#222" stroke-width="1.1" fill="none"/>
<text x="452.1" y="388" font-size="8.3" text-anchor="middle" font-weight="normal" font-style="normal" fill="#222">p&lt;0.01</text>
<rect x="414" y="499.8" width="13" height="7.5" fill="#000" stroke="#000" stroke-width="0.8"/>
<rect x="414" y="513.2" width="13" height="7.5" fill="#fe0000" stroke="#000" stroke-width="0.8"/>
<text x="433.8" y="506.8" font-size="11.5" text-anchor="start" font-weight="normal" font-style="normal" >wt</text>
<text x="433.8" y="521.2" font-size="11.7" text-anchor="start" font-weight="normal" font-style="normal" >CD19-BTK</text>
<text x="4" y="559" font-size="17" text-anchor="start" font-weight="bold" font-style="normal" >C</text>
<text x="124.8" y="565.3" font-size="16" text-anchor="middle" font-weight="normal" font-style="normal" >FSC</text>
<text x="234.4" y="565.3" font-size="16" text-anchor="middle" font-weight="normal" font-style="normal" >CD86</text>
<text x="344.1" y="565.3" font-size="16" text-anchor="middle" font-weight="normal" font-style="normal" >CD69</text>
<text x="453.6" y="565.3" font-size="16" text-anchor="middle" font-weight="normal" font-style="normal" >CD25</text>
<text x="70.5" y="606.5" font-size="16" text-anchor="end" font-weight="normal" font-style="normal" >-</text>
<text x="20.8" y="658.4" font-size="16.5" text-anchor="start" font-weight="normal" font-style="normal" >F(ab’)<tspan font-size="10.5" dy="3.8">2</tspan></text>
<text x="20.6" y="677" font-size="16.5" text-anchor="start" font-weight="normal" font-style="normal" ><tspan font-size="18.5">α</tspan>-IgM</text>
<text x="69.5" y="725.3" font-size="16.3" text-anchor="end" font-weight="normal" font-style="normal" >LPS</text>
<text x="69.5" y="784.3" font-size="16.3" text-anchor="end" font-weight="normal" font-style="normal" >CpG</text>
<text x="69.5" y="843.3" font-size="16.3" text-anchor="end" font-weight="normal" font-style="normal" ><tspan font-size="18">α</tspan>-CD40</text>
<path d="M95.5 627.6 L95.5 627.4 L96.4 626.4 L97.4 623.4 L98.4 618.6 L99.4 607.7 L100.4 598.7 L101.4 591 L102.4 588 L103.4 591.3 L104.4 599.2 L105.4 608.6 L106.4 614.8 L107.4 618.6 L108.4 620.9 L109.4 622.5 L110.4 623.2 L111.4 624.1 L112.3 624.5 L113.3 625 L114.3 625.3 L115.3 625.3 L116.3 625.5 L117.3 625.2 L118.3 625 L119.3 625 L120.3 624.6 L121.3 624.5 L122.3 624.3 L123.3 623.9 L124.3 623.9 L125.3 623.2 L126.3 622.7 L127.3 622.8 L128.3 622.7 L129.2 622.4 L130.2 622.7 L131.2 622.9 L132.2 623.5 L133.2 624.4 L134.2 624.9 L135.2 625 L136.2 625.2 L137.2 625.7 L138.2 626.1 L139.2 626.3 L140.2 626.5 L141.2 626.6 L142.2 626.7 L143.2 626.7 L144.2 626.8 L145.1 626.9 L146.1 626.9 L147.1 627 L148.1 627 L149.1 627.1 L150.1 627.1 L151.1 627.1 L151.1 627.6 Z" fill="#cbcbcb" stroke="none"/>
<path d="M74.2 627.9v0.9M79.1 627.9v0.9M84.1 627.9v0.9M89 627.9v0.9M94 627.9v0.9M98.9 627.9v2.2M103.8 627.9v0.9M108.8 627.9v0.9M113.7 627.9v0.9M118.6 627.9v0.9M123.6 627.9v2.2M128.5 627.9v0.9M133.5 627.9v0.9M138.4 627.9v0.9M143.3 627.9v0.9M148.3 627.9v2.2M153.2 627.9v0.9M158.2 627.9v0.9M163.1 627.9v0.9M168 627.9v0.9M173 627.9v2.2" stroke="#111" stroke-width="0.8" fill="none"/>
<rect x="74.2" y="576" width="101.2" height="51.6" fill="none" stroke="#1a1a1a" stroke-width="1"/>
<path d="M74.2 627 L75.2 627 L76.2 627 L77.2 627 L78.2 627 L79.2 627 L80.2 627 L81.1 627 L82.1 627 L83.1 627 L84.1 627 L85.1 627 L86.1 627 L87.1 627 L88.1 627 L89.1 627 L90.1 627 L91.1 627 L92.1 627 L93.1 627 L94 627 L95 626.6 L96 624.6 L97 621.3 L98 615.9 L99 605.9 L100 595 L101 582.4 L102 578 L103 579.1 L104 586.4 L105 597 L105.9 607 L106.9 612.2 L107.9 616 L108.9 618.4 L109.9 620.2 L110.9 621.6 L111.9 622.5 L112.9 623.3 L113.9 623.7 L114.9 624.3 L115.9 624.7 L116.9 624.5 L117.9 624.2 L118.8 624.2 L119.8 624 L120.8 623.7 L121.8 623.5 L122.8 622.9 L123.8 622.4 L124.8 622.2 L125.8 621.7 L126.8 621.7 L127.8 621.4 L128.8 621.2 L129.8 621.4 L130.8 621.2 L131.7 622.1 L132.7 623.2 L133.7 623.5 L134.7 623.8 L135.7 624.3 L136.7 624.5 L137.7 624.9 L138.7 625.2 L139.7 625.4 L140.7 625.9 L141.7 626.2 L142.7 626.3 L143.7 626.2 L144.6 626.2 L145.6 626.3 L146.6 626.3 L147.6 626.4 L148.6 626.5 L149.6 626.5 L150.6 626.6 L151.6 626.6 L152.6 626.6 L153.6 626.7 L154.6 626.7 L155.6 626.7 L156.5 626.7 L157.5 626.8 L158.5 626.8 L159.5 626.8 L160.5 626.8 L161.5 626.8 L162.5 626.9 L163.5 626.9 L164.5 626.9 L165.5 626.9 L166.5 626.9 L167.5 626.9 L168.5 626.9 L169.4 627 L170.4 627 L171.4 627 L172.4 627 L173.4 627 L174.4 627 L175.4 627" fill="none" stroke="#dd0f20" stroke-width="1.7" stroke-linejoin="round" stroke-linecap="round"/>
<path d="M184.9 627.6 L184.9 612.3 L185.9 612.6 L186.9 612.2 L187.9 611.5 L188.9 611.4 L189.9 611.5 L190.9 610.6 L191.9 608.8 L192.9 608.1 L193.9 607.3 L194.9 606.6 L195.9 606.2 L196.9 606.1 L197.9 607.1 L198.9 606.7 L199.9 604.2 L200.9 601.1 L201.9 600.8 L202.9 599.4 L203.9 599.4 L204.9 599.6 L205.9 597.2 L206.9 593.5 L207.9 592.3 L208.9 588.4 L209.8 586.9 L210.8 584.6 L211.8 584.6 L212.8 583.2 L213.8 580.1 L214.8 581.6 L215.8 582.5 L216.8 582.7 L217.8 583.6 L218.8 583.9 L219.8 583.4 L220.8 584.4 L221.8 587.8 L222.8 590.6 L223.8 592.7 L224.8 594.7 L225.8 599 L226.8 601.9 L227.8 601.8 L228.8 602.7 L229.8 602 L230.8 604.3 L231.8 609 L232.8 612 L233.8 613.6 L234.8 612.1 L235.8 611.8 L236.8 612 L237.8 613.6 L238.8 615.2 L239.8 615.3 L240.8 616.9 L241.8 618.5 L242.8 619.8 L243.8 619.6 L244.8 620.7 L245.8 621.4 L246.8 622.6 L247.8 623.5 L248.8 623.2 L249.7 623.7 L250.7 624.9 L251.7 625.8 L252.7 625.9 L253.7 626.4 L254.7 626.6 L255.7 626.7 L256.7 626.9 L257.7 627 L258.7 627.1 L259.7 627.1 L259.7 627.6 Z" fill="#cbcbcb" stroke="none"/>
<path d="M194.5 627.9v2.2M230.4 627.9v2.2M254.7 627.9v2.2M278.9 627.9v2.2M213.5 627.9v1.4M217.7 627.9v1.4M220.8 627.9v1.4M223.1 627.9v1.4M225 627.9v1.4M226.7 627.9v1.4M228.1 627.9v1.4M229.3 627.9v1.4M237.7 627.9v1.4M242 627.9v1.4M245 627.9v1.4M247.3 627.9v1.4M249.2 627.9v1.4M250.9 627.9v1.4M252.3 627.9v1.4M253.5 627.9v1.4M262 627.9v1.4M266.2 627.9v1.4M269.2 627.9v1.4M271.6 627.9v1.4M273.5 627.9v1.4M275.1 627.9v1.4M276.5 627.9v1.4M277.8 627.9v1.4M197.5 627.9v1.4M200.6 627.9v1.4M203.6 627.9v1.4M206.2 627.9v1.4M191.5 627.9v1.4M188.4 627.9v1.4" stroke="#111" stroke-width="0.8" fill="none"/>
<rect x="183.9" y="576" width="101.1" height="51.6" fill="none" stroke="#1a1a1a" stroke-width="1"/>
<path d="M184.2 627.3 L184.2 576.4 L185.4 610.1 L186.4 611.9 L187.4 613.1 L188.4 614 L189.4 614.4 L190.4 613.8 L191.4 612.7 L192.4 610.4 L193.4 608.8 L194.4 608 L195.4 606.6 L196.4 606.1 L197.4 608.4 L198.4 609.4 L199.4 607.3 L200.4 605.4 L201.3 603.2 L202.3 602.1 L203.3 600.6 L204.3 598.8 L205.3 595.7 L206.3 594.8 L207.3 593.8 L208.3 590.7 L209.3 589.6 L210.3 587.8 L211.3 585.8 L212.3 582.9 L213.3 582.8 L214.3 581.2 L215.3 579.5 L216.3 577.5 L217.3 577.3 L218.3 579.7 L219.3 581.6 L220.3 583 L221.3 584.5 L222.3 584.9 L223.3 586.6 L224.3 589.2 L225.2 591.5 L226.2 592.7 L227.2 596.1 L228.2 599 L229.2 599.1 L230.2 600.5 L231.2 601.6 L232.2 602.6 L233.2 602.4 L234.2 602.8 L235.2 603.2 L236.2 603.9 L237.2 607.1 L238.2 607.3 L239.2 607.3 L240.2 608.9 L241.2 609.2 L242.2 608.5 L243.2 606.9 L244.2 609.3 L245.2 614 L246.2 616.4 L247.2 617 L248.2 617.2 L249.1 619.2 L250.1 621.1 L251.1 621.9 L252.1 622.5 L253.1 622.6 L254.1 623.8 L255.1 624.5 L256.1 624.9 L257.1 624.5 L258.1 625 L259.1 626 L260.1 625.9 L261.1 625.7 L262.1 625.9 L263.1 626 L264.1 626.2 L265.1 626.1 L266.1 626.2 L267.1 626.2 L268.1 626.3 L269.1 626.4 L270.1 626.4 L271.1 626.5 L272.1 626.6 L273 626.6 L274 626.7 L275 626.7 L276 626.8 L277 626.8 L278 626.9 L279 626.9 L280 626.9 L281 626.9 L282 627 L283 627 L284 627 L285 627" fill="none" stroke="#dd0f20" stroke-width="1.7" stroke-linejoin="round" stroke-linecap="round"/>
<path d="M294.2 627.6 L294.2 603.7 L295.2 599.1 L296.2 598.5 L297.2 598.8 L298.2 598.8 L299.2 595.7 L300.2 594.9 L301.2 595.4 L302.2 593.1 L303.2 589.3 L304.2 588.3 L305.2 588.3 L306.2 587.8 L307.2 588.2 L308.2 588.1 L309.2 586.1 L310.2 585 L311.2 583 L312.2 582.8 L313.2 585.5 L314.2 584.8 L315.2 583.2 L316.2 583.5 L317.2 583.8 L318.2 586.8 L319.2 588 L320.2 589.9 L321.2 594.4 L322.2 596 L323.2 598.1 L324.2 602.1 L325.2 606.2 L326.2 609.1 L327.2 613.4 L328.2 617.3 L329.2 619.2 L330.2 620.2 L331.2 621.6 L332.2 621.7 L333.2 621.8 L334.1 622.8 L335.1 623.7 L336.1 624.1 L337.1 624.5 L338.1 624.6 L339.1 625 L340.1 626 L341.1 626.1 L342.1 626.3 L343.1 626.6 L344.1 626.7 L345.1 626.9 L346.1 627 L347.1 627.1 L347.1 627.6 Z" fill="#cbcbcb" stroke="none"/>
<path d="M304.2 627.9v2.2M340.1 627.9v2.2M364.3 627.9v2.2M388.5 627.9v2.2M323.2 627.9v1.4M327.4 627.9v1.4M330.4 627.9v1.4M332.8 627.9v1.4M334.7 627.9v1.4M336.3 627.9v1.4M337.7 627.9v1.4M339 627.9v1.4M347.3 627.9v1.4M351.6 627.9v1.4M354.6 627.9v1.4M357 627.9v1.4M358.9 627.9v1.4M360.5 627.9v1.4M361.9 627.9v1.4M363.1 627.9v1.4M371.6 627.9v1.4M375.8 627.9v1.4M378.9 627.9v1.4M381.2 627.9v1.4M383.1 627.9v1.4M384.7 627.9v1.4M386.1 627.9v1.4M387.4 627.9v1.4M307.2 627.9v1.4M310.3 627.9v1.4M313.3 627.9v1.4M315.9 627.9v1.4M301.2 627.9v1.4M298.1 627.9v1.4" stroke="#111" stroke-width="0.8" fill="none"/>
<rect x="293.6" y="576" width="101" height="51.6" fill="none" stroke="#1a1a1a" stroke-width="1"/>
<path d="M293.9 627.3 L293.9 602.2 L294.4 603 L295.4 599.2 L296.4 596.1 L297.4 594.2 L298.4 594.1 L299.4 593.7 L300.4 594.5 L301.4 592.7 L302.3 590.6 L303.3 590.2 L304.3 587.5 L305.3 584.5 L306.3 583.4 L307.3 583.5 L308.3 583.4 L309.3 583.9 L310.3 583 L311.3 582.8 L312.3 582.2 L313.3 581 L314.2 582 L315.2 582.3 L316.2 581.2 L317.2 582.3 L318.2 584.8 L319.2 586 L320.2 589.1 L321.2 591.7 L322.2 593.3 L323.2 594.5 L324.2 599.3 L325.2 603.7 L326.2 607.4 L327.1 610.3 L328.1 613.3 L329.1 616.2 L330.1 618 L331.1 618.3 L332.1 619.2 L333.1 620.8 L334.1 620.7 L335.1 621.5 L336.1 622.4 L337.1 622.5 L338.1 623.5 L339 624.7 L340 624.1 L341 624.1 L342 624.9 L343 625.6 L344 625.6 L345 626.1 L346 626.4 L347 626.6 L348 626.7 L349 626.7 L350 626.8 L351 626.9 L351.9 626.9 L352.9 627 L353.9 627 L354.9 627 L355.9 627 L356.9 627 L357.9 627 L358.9 627 L359.9 627 L360.9 627 L361.9 627 L362.9 627 L363.8 627 L364.8 627 L365.8 627 L366.8 627 L367.8 627 L368.8 627 L369.8 627 L370.8 627 L371.8 627 L372.8 627 L373.8 627 L374.8 627 L375.8 627 L376.7 627 L377.7 627 L378.7 627 L379.7 627 L380.7 627 L381.7 627 L382.7 627 L383.7 627 L384.7 627 L385.7 627 L386.7 627 L387.7 627 L388.6 627 L389.6 627 L390.6 627 L391.6 627 L392.6 627 L393.6 627 L394.6 627" fill="none" stroke="#dd0f20" stroke-width="1.7" stroke-linejoin="round" stroke-linecap="round"/>
<path d="M403.9 627.6 L403.9 620.9 L404.9 620.7 L405.9 621.1 L406.9 621.8 L407.9 622.4 L408.9 622.2 L409.9 622.2 L410.8 621.8 L411.8 621.7 L412.8 621.9 L413.8 622.1 L414.8 621.9 L415.8 620.8 L416.8 620.1 L417.8 620.3 L418.8 620.9 L419.8 620.6 L420.7 620.3 L421.7 619.4 L422.7 619.7 L423.7 619.8 L424.7 619.2 L425.7 617.7 L426.7 616.9 L427.7 615.7 L428.7 614.5 L429.7 613.9 L430.7 613.2 L431.6 611.8 L432.6 609.8 L433.6 608.4 L434.6 604.7 L435.6 602.9 L436.6 602.4 L437.6 601.3 L438.6 598.7 L439.6 596.4 L440.6 593.7 L441.5 592.5 L442.5 589.9 L443.5 588.4 L444.5 587.4 L445.5 584.2 L446.5 582.3 L447.5 582.6 L448.5 582 L449.5 581.1 L450.5 582.4 L451.5 585.4 L452.4 590.2 L453.4 593.8 L454.4 598.3 L455.4 602.7 L456.4 606.7 L457.4 608.6 L458.4 611.6 L459.4 614.8 L460.4 616.9 L461.4 619.1 L462.4 620.7 L463.3 621.3 L464.3 622.2 L465.3 623 L466.3 623.4 L467.3 624.1 L468.3 624.4 L469.3 624.7 L470.3 625.1 L471.3 625.4 L472.3 625.9 L473.2 625.4 L474.2 625.7 L475.2 626.4 L476.2 626.4 L477.2 626.2 L478.2 626.3 L479.2 626.4 L480.2 626.5 L481.2 626.5 L482.2 626.6 L483.2 626.7 L484.1 626.8 L485.1 626.8 L486.1 626.9 L487.1 626.9 L488.1 627 L489.1 627 L490.1 627 L491.1 627.1 L492.1 627.1 L492.1 627.6 Z" fill="#cbcbcb" stroke="none"/>
<path d="M413.7 627.9v2.2M449.6 627.9v2.2M473.9 627.9v2.2M498.1 627.9v2.2M432.7 627.9v1.4M436.9 627.9v1.4M440 627.9v1.4M442.3 627.9v1.4M444.2 627.9v1.4M445.9 627.9v1.4M447.3 627.9v1.4M448.5 627.9v1.4M456.9 627.9v1.4M461.2 627.9v1.4M464.2 627.9v1.4M466.5 627.9v1.4M468.4 627.9v1.4M470.1 627.9v1.4M471.5 627.9v1.4M472.7 627.9v1.4M481.2 627.9v1.4M485.4 627.9v1.4M488.4 627.9v1.4M490.8 627.9v1.4M492.7 627.9v1.4M494.3 627.9v1.4M495.7 627.9v1.4M497 627.9v1.4M416.7 627.9v1.4M419.8 627.9v1.4M422.8 627.9v1.4M425.4 627.9v1.4M410.7 627.9v1.4M407.6 627.9v1.4" stroke="#111" stroke-width="0.8" fill="none"/>
<rect x="403.1" y="576" width="101.1" height="51.6" fill="none" stroke="#1a1a1a" stroke-width="1"/>
<path d="M403.4 627.3 L403.4 576.4 L403.9 620.2 L404.9 620.2 L405.9 620.9 L406.9 620.7 L407.9 621 L408.9 621 L409.9 620.6 L410.9 620.5 L411.9 620.5 L412.8 620.1 L413.8 620.5 L414.8 620.4 L415.8 620.2 L416.8 620.2 L417.8 620.2 L418.8 620.6 L419.8 619.7 L420.8 618.7 L421.8 618.4 L422.8 618.5 L423.8 619 L424.8 618 L425.8 617.7 L426.7 616.7 L427.7 614.8 L428.7 613.9 L429.7 612.7 L430.7 611.1 L431.7 609.8 L432.7 608.1 L433.7 606.7 L434.7 604.2 L435.7 602.7 L436.7 601.2 L437.7 598.5 L438.7 597 L439.7 596.1 L440.6 595 L441.6 592.2 L442.6 589.2 L443.6 587 L444.6 586.1 L445.6 585.1 L446.6 582.3 L447.6 581.3 L448.6 580.1 L449.6 580.1 L450.6 578.9 L451.6 583.5 L452.6 588.3 L453.6 591 L454.6 594.5 L455.5 598.9 L456.5 602.9 L457.5 605.9 L458.5 608.9 L459.5 611.5 L460.5 613.7 L461.5 615.5 L462.5 617.8 L463.5 619.6 L464.5 620.4 L465.5 621.2 L466.5 621.8 L467.5 622.2 L468.5 622.2 L469.4 622.6 L470.4 623 L471.4 623.5 L472.4 623.8 L473.4 624.8 L474.4 625.4 L475.4 625.5 L476.4 625.7 L477.4 625.4 L478.4 625.5 L479.4 626 L480.4 625.7 L481.4 625.6 L482.4 626.2 L483.3 626.3 L484.3 626.4 L485.3 626.5 L486.3 626.6 L487.3 626.7 L488.3 626.8 L489.3 626.9 L490.3 626.9 L491.3 627 L492.3 627 L493.3 627 L494.3 627 L495.3 627 L496.3 627 L497.2 627 L498.2 627 L499.2 627 L500.2 627 L501.2 627 L502.2 627 L503.2 627 L504.2 627" fill="none" stroke="#dd0f20" stroke-width="1.7" stroke-linejoin="round" stroke-linecap="round"/>
<path d="M96.5 686.8 L96.5 686.6 L97.5 683.3 L98.5 678.4 L99.4 673.3 L100.4 664.2 L101.4 653.5 L102.4 646.1 L103.4 640.4 L104.4 637.7 L105.4 637.1 L106.4 639.7 L107.4 643.1 L108.4 648 L109.4 654 L110.4 658.8 L111.4 663.2 L112.4 666.8 L113.3 670.1 L114.3 672.8 L115.3 674.9 L116.3 677 L117.3 678.6 L118.3 679.2 L119.3 680.8 L120.3 681.9 L121.3 682 L122.3 683 L123.3 683.6 L124.3 684.1 L125.3 683.9 L126.3 684 L127.3 684.5 L128.2 684.9 L129.2 684.6 L130.2 684.3 L131.2 684.5 L132.2 685 L133.2 685.3 L134.2 685.4 L135.2 685.6 L136.2 685.7 L137.2 685.8 L138.2 685.9 L139.2 685.9 L140.2 686 L141.2 686 L142.2 686.1 L143.1 686.1 L144.1 686.2 L145.1 686.2 L146.1 686.2 L147.1 686.2 L148.1 686.3 L149.1 686.3 L150.1 686.3 L150.1 686.8 Z" fill="#cbcbcb" stroke="none"/>
<path d="M74.2 687.1v0.9M79.1 687.1v0.9M84.1 687.1v0.9M89 687.1v0.9M94 687.1v0.9M98.9 687.1v2.2M103.8 687.1v0.9M108.8 687.1v0.9M113.7 687.1v0.9M118.6 687.1v0.9M123.6 687.1v2.2M128.5 687.1v0.9M133.5 687.1v0.9M138.4 687.1v0.9M143.3 687.1v0.9M148.3 687.1v2.2M153.2 687.1v0.9M158.2 687.1v0.9M163.1 687.1v0.9M168 687.1v0.9M173 687.1v2.2" stroke="#111" stroke-width="0.8" fill="none"/>
<rect x="74.2" y="635.2" width="101.2" height="51.6" fill="none" stroke="#1a1a1a" stroke-width="1"/>
<path d="M74.2 686.2 L75.2 686.2 L76.2 686.2 L77.2 686.2 L78.2 686.2 L79.2 686.2 L80.2 686.2 L81.1 686.2 L82.1 686.2 L83.1 686.2 L84.1 686.2 L85.1 686.2 L86.1 686.2 L87.1 686.2 L88.1 686.2 L89.1 686.2 L90.1 686.2 L91.1 686.2 L92.1 686.2 L93.1 686.2 L94 686.2 L95 686.2 L96 685.9 L97 684.6 L98 682.3 L99 679.5 L100 675.3 L101 670.2 L102 664.8 L103 660.1 L104 655.9 L105 651.6 L105.9 646.3 L106.9 641.7 L107.9 638.2 L108.9 638.1 L109.9 637.9 L110.9 638.8 L111.9 641.7 L112.9 645.4 L113.9 648.2 L114.9 651.4 L115.9 653.7 L116.9 655.6 L117.9 660.4 L118.8 664.2 L119.8 666.8 L120.8 669.3 L121.8 671.3 L122.8 672.9 L123.8 674.2 L124.8 675.4 L125.8 676.5 L126.8 677.1 L127.8 677.6 L128.8 678.3 L129.8 677.8 L130.8 678.1 L131.7 679.6 L132.7 680.4 L133.7 681.1 L134.7 681 L135.7 680.8 L136.7 681.1 L137.7 681 L138.7 681.2 L139.7 681.1 L140.7 681.5 L141.7 681.5 L142.7 681.9 L143.7 682 L144.6 682.2 L145.6 682.3 L146.6 682.3 L147.6 682.9 L148.6 683.1 L149.6 683.3 L150.6 683.4 L151.6 683.1 L152.6 683.3 L153.6 683.9 L154.6 684.2 L155.6 684.3 L156.5 684.2 L157.5 684.4 L158.5 685 L159.5 685.4 L160.5 685.3 L161.5 685.3 L162.5 685.4 L163.5 685.5 L164.5 685.6 L165.5 685.7 L166.5 685.8 L167.5 685.9 L168.5 685.9 L169.4 686 L170.4 686 L171.4 686.1 L172.4 686.1 L173.4 686.2 L174.4 686.2 L175.4 686.2" fill="none" stroke="#dd0f20" stroke-width="1.7" stroke-linejoin="round" stroke-linecap="round"/>
<path d="M196 686.8 L196 686.6 L197 686.2 L198 685.7 L199 686.2 L200 685.1 L201 685.3 L202 684.2 L203 683 L204 683.2 L205 683.4 L206 682.4 L207 682.9 L208 683.6 L209 683.1 L210 681.5 L211 680.7 L212 680.9 L213 678.9 L214 678.9 L215 679.1 L216 677.5 L217 677.8 L218 678.5 L219 677.6 L220 675.8 L221 673.2 L222 671.8 L223 670.4 L224 670.1 L225 671 L226 672.7 L227 672.5 L228 669.3 L229 666.1 L230 668 L231 668.9 L232 668.4 L233 666.3 L234 663.6 L235 660.7 L236 658.9 L237 655.8 L238 654.3 L239 651.3 L240 645.2 L241 642 L242 641 L243 640 L244 638.9 L245 637.9 L246 642.2 L247 648.2 L248 650 L249 651.6 L250 655 L251 657.4 L252 659.7 L253 662.2 L254 662.5 L255 661.9 L256 660.4 L257 656.5 L258 651.6 L259 650 L260 650.3 L261 649.7 L262 650.5 L263 652.6 L264 654.9 L265 659.4 L266 664 L267 666.2 L268 670.1 L269 672.3 L270 673.7 L271 676 L272 678.8 L273 681.5 L274 683.3 L275 684.3 L275.9 684.3 L276.9 684.2 L277.9 685.5 L278.9 686.2 L279.9 686.6 L279.9 686.8 Z" fill="#cbcbcb" stroke="none"/>
<path d="M194.5 687.1v2.2M230.4 687.1v2.2M254.7 687.1v2.2M278.9 687.1v2.2M213.5 687.1v1.4M217.7 687.1v1.4M220.8 687.1v1.4M223.1 687.1v1.4M225 687.1v1.4M226.7 687.1v1.4M228.1 687.1v1.4M229.3 687.1v1.4M237.7 687.1v1.4M242 687.1v1.4M245 687.1v1.4M247.3 687.1v1.4M249.2 687.1v1.4M250.9 687.1v1.4M252.3 687.1v1.4M253.5 687.1v1.4M262 687.1v1.4M266.2 687.1v1.4M269.2 687.1v1.4M271.6 687.1v1.4M273.5 687.1v1.4M275.1 687.1v1.4M276.5 687.1v1.4M277.8 687.1v1.4M197.5 687.1v1.4M200.6 687.1v1.4M203.6 687.1v1.4M206.2 687.1v1.4M191.5 687.1v1.4M188.4 687.1v1.4" stroke="#111" stroke-width="0.8" fill="none"/>
<rect x="183.9" y="635.2" width="101.1" height="51.6" fill="none" stroke="#1a1a1a" stroke-width="1"/>
<path d="M183.9 686.2 L184.9 686.2 L185.9 686.2 L186.9 686.2 L187.9 686.2 L188.9 686.2 L189.9 686.2 L190.9 686.2 L191.9 686.2 L192.9 686.2 L193.8 686.2 L194.8 686.2 L195.8 686.2 L196.8 686.2 L197.8 686.2 L198.8 686.2 L199.8 686.2 L200.8 686.2 L201.8 686.2 L202.8 686.2 L203.8 686.2 L204.8 686.2 L205.8 686.2 L206.8 686.2 L207.8 686.2 L208.8 686.2 L209.8 686.2 L210.8 686.2 L211.8 686.2 L212.8 686.2 L213.7 686.2 L214.7 686.2 L215.7 686.2 L216.7 686.2 L217.7 686.2 L218.7 686.2 L219.7 686.1 L220.7 685.8 L221.7 685.4 L222.7 685.2 L223.7 685 L224.7 684.8 L225.7 684.5 L226.7 684.7 L227.7 684.3 L228.7 684 L229.7 684 L230.7 683.7 L231.7 682.9 L232.7 681.8 L233.6 680.3 L234.6 678.5 L235.6 677.6 L236.6 677 L237.6 675.3 L238.6 674 L239.6 672 L240.6 670 L241.6 668.4 L242.6 665.7 L243.6 662.5 L244.6 659.6 L245.6 658.9 L246.6 660.6 L247.6 662.5 L248.6 664 L249.6 665.8 L250.6 666.8 L251.6 667.3 L252.6 668.6 L253.5 669.2 L254.5 670.1 L255.5 671.5 L256.5 671.3 L257.5 669.4 L258.5 666.2 L259.5 661.4 L260.5 659 L261.5 655.6 L262.5 655.6 L263.5 656.8 L264.5 650.6 L265.5 644.7 L266.5 637.3 L267.5 637.9 L268.5 643 L269.5 643.6 L270.5 643.7 L271.5 644.7 L272.5 647.3 L273.4 651.4 L274.4 656.3 L275.4 661 L276.4 667.8 L277.4 673.1 L278.4 677.5 L279.4 680.3 L280.4 682.3 L281.4 683.1 L282.4 684.3 L283.4 685.6 L284.4 686.2" fill="none" stroke="#dd0f20" stroke-width="1.7" stroke-linejoin="round" stroke-linecap="round"/>
<path d="M294.2 686.8 L294.2 662.7 L295.2 659.7 L296.2 660.6 L297.2 660.9 L298.2 660.7 L299.2 659.7 L300.2 658.7 L301.2 656.5 L302.2 652.3 L303.2 653.2 L304.2 654.9 L305.2 655.5 L306.2 656.6 L307.2 654.9 L308.2 649.8 L309.1 646.2 L310.1 645.2 L311.1 645.9 L312.1 650.5 L313.1 650.7 L314.1 647.4 L315.1 647.1 L316.1 652.7 L317.1 656.7 L318.1 655.8 L319.1 653.2 L320.1 651 L321.1 650.5 L322.1 647.9 L323.1 648.5 L324.1 646.9 L325.1 644.2 L326.1 642.7 L327.1 646.2 L328.1 647.9 L329.1 650.9 L330.1 647.8 L331.1 642.2 L332.1 640 L333.1 637.8 L334 638.8 L335 639.6 L336 640.9 L337 639.7 L338 639.9 L339 643.7 L340 647.2 L341 649.2 L342 651.1 L343 655 L344 658.1 L345 659.7 L346 663.9 L347 667.5 L348 670.1 L349 672 L350 675.6 L351 678.6 L352 681 L353 684 L354 685.4 L355 685.1 L356 685.3 L357 685.9 L358 686.4 L358.9 686.6 L358.9 686.8 Z" fill="#cbcbcb" stroke="none"/>
<path d="M304.2 687.1v2.2M340.1 687.1v2.2M364.3 687.1v2.2M388.5 687.1v2.2M323.2 687.1v1.4M327.4 687.1v1.4M330.4 687.1v1.4M332.8 687.1v1.4M334.7 687.1v1.4M336.3 687.1v1.4M337.7 687.1v1.4M339 687.1v1.4M347.3 687.1v1.4M351.6 687.1v1.4M354.6 687.1v1.4M357 687.1v1.4M358.9 687.1v1.4M360.5 687.1v1.4M361.9 687.1v1.4M363.1 687.1v1.4M371.6 687.1v1.4M375.8 687.1v1.4M378.9 687.1v1.4M381.2 687.1v1.4M383.1 687.1v1.4M384.7 687.1v1.4M386.1 687.1v1.4M387.4 687.1v1.4M307.2 687.1v1.4M310.3 687.1v1.4M313.3 687.1v1.4M315.9 687.1v1.4M301.2 687.1v1.4M298.1 687.1v1.4" stroke="#111" stroke-width="0.8" fill="none"/>
<rect x="293.6" y="635.2" width="101" height="51.6" fill="none" stroke="#1a1a1a" stroke-width="1"/>
<path d="M293.9 686.5 L293.9 635.6 L294.6 681.7 L295.6 681.1 L296.6 680.6 L297.6 681 L298.6 680.6 L299.6 680.5 L300.6 680.7 L301.6 680.8 L302.6 681.8 L303.6 682.2 L304.6 682.8 L305.6 681.9 L306.6 680.5 L307.6 680 L308.6 679.3 L309.6 679.3 L310.6 679.8 L311.6 680 L312.6 679.7 L313.6 679.5 L314.6 679 L315.6 678.4 L316.6 678.3 L317.6 678.4 L318.6 678.1 L319.6 677.6 L320.6 678.2 L321.6 678.5 L322.6 677.6 L323.6 676 L324.6 674.2 L325.6 672.6 L326.6 669.9 L327.6 669.1 L328.6 668 L329.6 665.7 L330.6 662.9 L331.6 661.5 L332.6 661.3 L333.6 659.7 L334.6 657.3 L335.6 655.4 L336.6 651.7 L337.6 647.3 L338.6 646.3 L339.6 642.4 L340.6 640 L341.6 642.1 L342.6 640.6 L343.6 638.8 L344.6 638.4 L345.6 646.4 L346.6 647.9 L347.6 649 L348.6 651.1 L349.6 651.6 L350.6 650.3 L351.6 648.3 L352.6 650.1 L353.6 653.4 L354.6 660.2 L355.6 664.9 L356.6 669.5 L357.6 672.4 L358.6 675.8 L359.6 678.2 L360.6 679.3 L361.6 680.8 L362.6 682.1 L363.6 683.2 L364.6 683.5 L365.6 684.1 L366.6 685.3 L367.6 685.6 L368.6 685.7 L369.6 685.8 L370.6 686 L371.6 686 L372.6 686.1 L373.6 686.2 L374.6 686.2 L375.6 686.2 L376.6 686.2 L377.6 686.2 L378.6 686.2 L379.6 686.2 L380.6 686.2 L381.6 686.2 L382.6 686.2 L383.6 686.2 L384.6 686.2 L385.6 686.2 L386.6 686.2 L387.6 686.2 L388.6 686.2 L389.6 686.2 L390.6 686.2 L391.6 686.2 L392.6 686.2 L393.6 686.2 L394.6 686.2" fill="none" stroke="#dd0f20" stroke-width="1.7" stroke-linejoin="round" stroke-linecap="round"/>
<path d="M404.8 686.8 L404.8 681.9 L405.8 681.8 L406.8 682.5 L407.8 683.2 L408.8 683.5 L409.8 683 L410.8 682.9 L411.8 683.4 L412.8 683.3 L413.7 682.3 L414.7 682.4 L415.7 681.6 L416.7 682 L417.7 681.1 L418.7 682 L419.7 683.1 L420.7 682.8 L421.7 681.4 L422.7 680.8 L423.7 680.7 L424.7 680.9 L425.6 681.1 L426.6 682 L427.6 682.2 L428.6 681.9 L429.6 679.8 L430.6 679.2 L431.6 678 L432.6 676.4 L433.6 676.8 L434.6 676.8 L435.6 674 L436.6 673.6 L437.6 672.2 L438.5 671.6 L439.5 668.6 L440.5 665.6 L441.5 667.3 L442.5 666.7 L443.5 663.3 L444.5 661.7 L445.5 661.3 L446.5 659 L447.5 658.6 L448.5 659.6 L449.5 659.4 L450.4 658.7 L451.4 659.6 L452.4 654.8 L453.4 655.1 L454.4 661 L455.4 661.1 L456.4 659.1 L457.4 655.4 L458.4 654.9 L459.4 654.3 L460.4 650.8 L461.4 651.5 L462.3 656 L463.3 658.1 L464.3 655.1 L465.3 651.9 L466.3 649.8 L467.3 649.6 L468.3 647.2 L469.3 646.2 L470.3 645.7 L471.3 642.6 L472.3 642.3 L473.3 646.6 L474.3 640.4 L475.2 638.1 L476.2 638.3 L477.2 639.1 L478.2 644 L479.2 645.5 L480.2 648.6 L481.2 652.8 L482.2 658.7 L483.2 662.1 L484.2 664.7 L485.2 666.4 L486.2 669.2 L487.1 674.9 L488.1 679.3 L489.1 680.3 L490.1 681.7 L491.1 683.5 L492.1 685.3 L493.1 685.9 L494.1 686.6 L494.1 686.8 Z" fill="#cbcbcb" stroke="none"/>
<path d="M413.7 687.1v2.2M449.6 687.1v2.2M473.9 687.1v2.2M498.1 687.1v2.2M432.7 687.1v1.4M436.9 687.1v1.4M440 687.1v1.4M442.3 687.1v1.4M444.2 687.1v1.4M445.9 687.1v1.4M447.3 687.1v1.4M448.5 687.1v1.4M456.9 687.1v1.4M461.2 687.1v1.4M464.2 687.1v1.4M466.5 687.1v1.4M468.4 687.1v1.4M470.1 687.1v1.4M471.5 687.1v1.4M472.7 687.1v1.4M481.2 687.1v1.4M485.4 687.1v1.4M488.4 687.1v1.4M490.8 687.1v1.4M492.7 687.1v1.4M494.3 687.1v1.4M495.7 687.1v1.4M497 687.1v1.4M416.7 687.1v1.4M419.8 687.1v1.4M422.8 687.1v1.4M425.4 687.1v1.4M410.7 687.1v1.4M407.6 687.1v1.4" stroke="#111" stroke-width="0.8" fill="none"/>
<rect x="403.1" y="635.2" width="101.1" height="51.6" fill="none" stroke="#1a1a1a" stroke-width="1"/>
<path d="M403.4 686.5 L403.4 635.6 L404.3 685.5 L405.3 685.5 L406.3 685.5 L407.3 685.5 L408.3 685.5 L409.3 685.5 L410.3 685.5 L411.3 685.5 L412.3 685.5 L413.3 685.5 L414.2 685.5 L415.2 685.5 L416.2 685.5 L417.2 685.5 L418.2 685.5 L419.2 685.5 L420.2 685.5 L421.2 685.5 L422.2 685.5 L423.2 685.5 L424.2 685.4 L425.2 685.4 L426.2 685.3 L427.2 685.3 L428.2 684.8 L429.2 685.1 L430.1 685.3 L431.1 685.2 L432.1 684.7 L433.1 684.2 L434.1 684 L435.1 683.6 L436.1 683.3 L437.1 683.5 L438.1 683 L439.1 682.5 L440.1 682 L441.1 681.7 L442.1 681.5 L443.1 681.6 L444.1 681.9 L445.1 682.1 L446 681.6 L447 680.6 L448 680 L449 680.2 L450 680.1 L451 679.3 L452 678 L453 677.1 L454 676.3 L455 676 L456 675.8 L457 676 L458 675.8 L459 674.7 L460 674.1 L461 674.3 L461.9 673.8 L462.9 672.6 L463.9 671.2 L464.9 671.1 L465.9 669.3 L466.9 667.8 L467.9 665.2 L468.9 663.7 L469.9 662.2 L470.9 662.2 L471.9 661.3 L472.9 659.7 L473.9 657.6 L474.9 655.8 L475.9 653.5 L476.8 650.8 L477.8 648.6 L478.8 647.6 L479.8 645.1 L480.8 642.1 L481.8 639.4 L482.8 642 L483.8 643.8 L484.8 642.4 L485.8 641.9 L486.8 644.6 L487.8 643.4 L488.8 647.4 L489.8 653 L490.8 659.6 L491.8 666.1 L492.7 670.3 L493.7 673.4 L494.7 676.5 L495.7 678.1 L496.7 680.4 L497.7 681.8 L498.7 683.2 L499.7 684 L500.7 685.4 L501.7 685.7 L502.7 686.2" fill="none" stroke="#dd0f20" stroke-width="1.7" stroke-linejoin="round" stroke-linecap="round"/>
<path d="M96.9 745.8 L96.9 745.2 L97.9 743.7 L98.8 741.2 L99.8 737 L100.8 730.3 L101.8 723.1 L102.8 716.4 L103.8 708.7 L104.8 702.2 L105.8 699.6 L106.8 702 L107.7 706.7 L108.7 711.8 L109.7 716.8 L110.7 720 L111.7 723.1 L112.7 725.5 L113.7 727.4 L114.7 729.5 L115.7 732 L116.6 733.5 L117.6 734.8 L118.6 736.3 L119.6 737.6 L120.6 738.7 L121.6 739 L122.6 739.4 L123.6 739.7 L124.6 740 L125.5 740.1 L126.5 740.5 L127.5 740.6 L128.5 740.7 L129.5 740.9 L130.5 740.7 L131.5 740.3 L132.5 740.6 L133.5 740.8 L134.4 741 L135.4 741.2 L136.4 741.3 L137.4 740.8 L138.4 740.9 L139.4 740.6 L140.4 740.7 L141.4 741.3 L142.4 741.5 L143.3 741.8 L144.3 742 L145.3 741.9 L146.3 742.1 L147.3 742.5 L148.3 742.8 L149.3 743.2 L150.3 743.6 L151.3 743.7 L152.2 743.7 L153.2 743.7 L154.2 743.7 L155.2 744.4 L156.2 744.6 L157.2 744.7 L158.2 744.8 L159.2 744.9 L160.2 745 L161.2 745.1 L162.1 745.1 L163.1 745.2 L164.1 745.2 L165.1 745.2 L166.1 745.2 L167.1 745.2 L168.1 745.2 L169.1 745.2 L170.1 745.2 L171 745.2 L172 745.2 L173 745.2 L174 745.2 L175 745.2 L175 745.8 Z" fill="#cbcbcb" stroke="none"/>
<path d="M74.2 746.1v0.9M79.1 746.1v0.9M84.1 746.1v0.9M89 746.1v0.9M94 746.1v0.9M98.9 746.1v2.2M103.8 746.1v0.9M108.8 746.1v0.9M113.7 746.1v0.9M118.6 746.1v0.9M123.6 746.1v2.2M128.5 746.1v0.9M133.5 746.1v0.9M138.4 746.1v0.9M143.3 746.1v0.9M148.3 746.1v2.2M153.2 746.1v0.9M158.2 746.1v0.9M163.1 746.1v0.9M168 746.1v0.9M173 746.1v2.2" stroke="#111" stroke-width="0.8" fill="none"/>
<rect x="74.2" y="694.2" width="101.2" height="51.6" fill="none" stroke="#1a1a1a" stroke-width="1"/>
<path d="M74.2 745.2 L75.2 745.2 L76.2 745.2 L77.2 745.2 L78.2 745.2 L79.2 745.2 L80.2 745.2 L81.1 745.2 L82.1 745.2 L83.1 745.2 L84.1 745.2 L85.1 745.2 L86.1 745.2 L87.1 745.2 L88.1 745.2 L89.1 745.2 L90.1 745.2 L91.1 745.2 L92.1 745.2 L93.1 745.2 L94 745.2 L95 745.2 L96 745.2 L97 744.7 L98 742.4 L99 739.3 L100 733.5 L101 725.6 L102 718.6 L103 710.5 L104 702.6 L105 697.2 L105.9 695.9 L106.9 696.5 L107.9 702.1 L108.9 707.6 L109.9 713.2 L110.9 717 L111.9 720.1 L112.9 722.9 L113.9 725.8 L114.9 728 L115.9 730.3 L116.9 731.7 L117.9 733.7 L118.8 735.6 L119.8 737.2 L120.8 737.6 L121.8 737.8 L122.8 738.3 L123.8 739 L124.8 739.4 L125.8 740.2 L126.8 740.6 L127.8 740.3 L128.8 739.7 L129.8 740.3 L130.8 740.7 L131.7 740.5 L132.7 740 L133.7 739.9 L134.7 739.9 L135.7 739.9 L136.7 740 L137.7 740 L138.7 739.7 L139.7 740 L140.7 740.1 L141.7 739.9 L142.7 740.3 L143.7 741.5 L144.6 741.8 L145.6 741.9 L146.6 742.2 L147.6 742.5 L148.6 742.8 L149.6 742.9 L150.6 742.8 L151.6 743.3 L152.6 743.7 L153.6 743.8 L154.6 744 L155.6 744.3 L156.5 744.5 L157.5 744.6 L158.5 744.7 L159.5 744.8 L160.5 744.9 L161.5 745 L162.5 745.1 L163.5 745.1 L164.5 745.2 L165.5 745.2 L166.5 745.2 L167.5 745.2 L168.5 745.2 L169.4 745.2 L170.4 745.2 L171.4 745.2 L172.4 745.2 L173.4 745.2 L174.4 745.2 L175.4 745.2" fill="none" stroke="#dd0f20" stroke-width="1.7" stroke-linejoin="round" stroke-linecap="round"/>
<path d="M211.2 745.8 L211.2 745.6 L212.2 745.6 L213.2 745.4 L214.2 745.2 L215.2 744.9 L216.2 744.5 L217.2 744.3 L218.2 743.6 L219.2 743.1 L220.2 742.9 L221.2 742.8 L222.2 742.4 L223.1 741 L224.1 740 L225.1 739.5 L226.1 738.7 L227.1 737.4 L228.1 736.4 L229.1 734 L230.1 731.9 L231.1 730 L232.1 728 L233.1 725.8 L234.1 722.9 L235.1 720.4 L236.1 717.8 L237.1 715.8 L238.1 712.7 L239.1 708.6 L240.1 705.8 L241.1 703.7 L242.1 701.6 L243.1 698.9 L244.1 697.8 L245.1 697.1 L246.1 698.2 L247 701.5 L248 706 L249 710.7 L250 714.3 L251 717.8 L252 718 L253 716.4 L254 714.7 L255 714.4 L256 714.9 L257 713.5 L258 713.1 L259 711.7 L260 713.2 L261 716.9 L262 717.4 L263 717.9 L264 719.1 L265 721.7 L266 726.4 L267 729.5 L268 731.1 L269 734 L270 736.4 L271 738.5 L271.9 739.3 L272.9 741.5 L273.9 743.2 L274.9 743.4 L275.9 744.6 L276.9 745.3 L277.9 745.6 L277.9 745.8 Z" fill="#cbcbcb" stroke="none"/>
<path d="M194.5 746.1v2.2M230.4 746.1v2.2M254.7 746.1v2.2M278.9 746.1v2.2M213.5 746.1v1.4M217.7 746.1v1.4M220.8 746.1v1.4M223.1 746.1v1.4M225 746.1v1.4M226.7 746.1v1.4M228.1 746.1v1.4M229.3 746.1v1.4M237.7 746.1v1.4M242 746.1v1.4M245 746.1v1.4M247.3 746.1v1.4M249.2 746.1v1.4M250.9 746.1v1.4M252.3 746.1v1.4M253.5 746.1v1.4M262 746.1v1.4M266.2 746.1v1.4M269.2 746.1v1.4M271.6 746.1v1.4M273.5 746.1v1.4M275.1 746.1v1.4M276.5 746.1v1.4M277.8 746.1v1.4M197.5 746.1v1.4M200.6 746.1v1.4M203.6 746.1v1.4M206.2 746.1v1.4M191.5 746.1v1.4M188.4 746.1v1.4" stroke="#111" stroke-width="0.8" fill="none"/>
<rect x="183.9" y="694.2" width="101.1" height="51.6" fill="none" stroke="#1a1a1a" stroke-width="1"/>
<path d="M183.9 745.2 L184.9 745.2 L185.9 745.2 L186.9 745.2 L187.9 745.2 L188.9 745.2 L189.8 745.2 L190.8 745.2 L191.8 745.2 L192.8 745.2 L193.8 745.2 L194.8 745.2 L195.8 745.2 L196.8 745.2 L197.8 745.2 L198.8 745.2 L199.8 745.2 L200.8 745.2 L201.7 745.2 L202.7 745.2 L203.7 745.2 L204.7 745.2 L205.7 745.2 L206.7 745.2 L207.7 745.2 L208.7 745.2 L209.7 745.2 L210.7 745.1 L211.7 745 L212.6 744.9 L213.6 744.7 L214.6 744.6 L215.6 744.4 L216.6 743.9 L217.6 744.1 L218.6 744.2 L219.6 743.8 L220.6 743 L221.6 742.6 L222.6 743 L223.5 742.1 L224.5 740.8 L225.5 739.6 L226.5 739.1 L227.5 738.6 L228.5 737.4 L229.5 735.6 L230.5 733.8 L231.5 731.9 L232.5 730.2 L233.5 727.7 L234.4 725.1 L235.4 722.5 L236.4 718.8 L237.4 715 L238.4 712 L239.4 708.2 L240.4 705.9 L241.4 703.3 L242.4 700.3 L243.4 697.5 L244.4 695.1 L245.4 695 L246.3 696 L247.3 700.2 L248.3 703.6 L249.3 705.6 L250.3 707.8 L251.3 711.2 L252.3 712.1 L253.3 712.3 L254.3 712.5 L255.3 713.8 L256.3 713 L257.2 710.6 L258.2 709.4 L259.2 706.8 L260.2 711.6 L261.2 715.8 L262.2 714.8 L263.2 714.7 L264.2 716.9 L265.2 720 L266.2 724 L267.2 728.6 L268.1 730.4 L269.1 732.4 L270.1 735 L271.1 736.9 L272.1 739.1 L273.1 741.2 L274.1 742.1 L275.1 743.2 L276.1 744.3 L277.1 744.9 L278.1 745.2 L279.1 745.2 L280 745.2 L281 745.2 L282 745.2 L283 745.2 L284 745.2 L285 745.2" fill="none" stroke="#dd0f20" stroke-width="1.7" stroke-linejoin="round" stroke-linecap="round"/>
<path d="M294.6 745.8 L294.6 743.4 L295.6 742.6 L296.6 742.6 L297.6 742.8 L298.6 742 L299.6 741.2 L300.6 740.7 L301.6 740.6 L302.6 740 L303.6 739.2 L304.6 739.9 L305.6 740.8 L306.6 740.5 L307.5 739.9 L308.5 739.6 L309.5 739.8 L310.5 739.9 L311.5 739.8 L312.5 740.2 L313.5 739.7 L314.5 739.6 L315.5 739.3 L316.5 738.9 L317.5 739.2 L318.5 738.5 L319.5 737.4 L320.5 737.2 L321.5 736 L322.5 735 L323.5 732.9 L324.5 730.3 L325.5 728.2 L326.5 724.7 L327.4 721.9 L328.4 718.2 L329.4 718.2 L330.4 719.2 L331.4 719.4 L332.4 715.5 L333.4 710.4 L334.4 708.5 L335.4 706.3 L336.4 704.9 L337.4 704.6 L338.4 705.1 L339.4 705 L340.4 703.1 L341.4 700.6 L342.4 701 L343.4 704 L344.4 706.4 L345.4 707.3 L346.4 710 L347.4 713 L348.3 717 L349.3 721 L350.3 724.4 L351.3 727.2 L352.3 731.3 L353.3 733.9 L354.3 736.9 L355.3 740 L356.3 741.8 L357.3 742.4 L358.3 743.3 L359.3 743.9 L360.3 744.7 L361.3 745.3 L362.3 745.6 L362.3 745.8 Z" fill="#cbcbcb" stroke="none"/>
<path d="M304.2 746.1v2.2M340.1 746.1v2.2M364.3 746.1v2.2M388.5 746.1v2.2M323.2 746.1v1.4M327.4 746.1v1.4M330.4 746.1v1.4M332.8 746.1v1.4M334.7 746.1v1.4M336.3 746.1v1.4M337.7 746.1v1.4M339 746.1v1.4M347.3 746.1v1.4M351.6 746.1v1.4M354.6 746.1v1.4M357 746.1v1.4M358.9 746.1v1.4M360.5 746.1v1.4M361.9 746.1v1.4M363.1 746.1v1.4M371.6 746.1v1.4M375.8 746.1v1.4M378.9 746.1v1.4M381.2 746.1v1.4M383.1 746.1v1.4M384.7 746.1v1.4M386.1 746.1v1.4M387.4 746.1v1.4M307.2 746.1v1.4M310.3 746.1v1.4M313.3 746.1v1.4M315.9 746.1v1.4M301.2 746.1v1.4M298.1 746.1v1.4" stroke="#111" stroke-width="0.8" fill="none"/>
<rect x="293.6" y="694.2" width="101" height="51.6" fill="none" stroke="#1a1a1a" stroke-width="1"/>
<path d="M293.9 745.5 L293.9 694.6 L294.6 744.5 L295.6 744.4 L296.6 744.4 L297.6 744.3 L298.6 744.1 L299.6 743.9 L300.6 743.8 L301.6 743.7 L302.6 743.6 L303.6 743.8 L304.6 743.4 L305.6 742.7 L306.6 742.7 L307.6 742.4 L308.6 742.2 L309.6 742.4 L310.6 742.3 L311.6 741.8 L312.6 741.6 L313.6 742.2 L314.6 741.7 L315.6 740.9 L316.6 740.7 L317.6 741.3 L318.6 741.7 L319.6 740.3 L320.6 740 L321.6 740 L322.6 738 L323.6 736.6 L324.6 736.1 L325.6 734.8 L326.6 733.3 L327.6 732.4 L328.6 731.2 L329.6 730.3 L330.6 729.4 L331.6 727.2 L332.6 725.9 L333.6 724 L334.6 720.8 L335.6 718.7 L336.6 715.9 L337.6 713 L338.6 711.6 L339.6 709.1 L340.6 705.3 L341.6 701.3 L342.6 698.5 L343.6 697.9 L344.6 698.1 L345.6 699.6 L346.6 698.1 L347.6 701.5 L348.6 703.7 L349.6 702.4 L350.6 704.2 L351.6 709.5 L352.6 714 L353.6 718.2 L354.6 721.5 L355.6 725.4 L356.6 729.7 L357.6 733.2 L358.6 736.1 L359.6 738.8 L360.6 740.4 L361.6 742 L362.6 742.9 L363.6 743.6 L364.6 744.2 L365.6 744.7 L366.6 745.1 L367.6 745.2 L368.6 745.2 L369.6 745.2 L370.6 745.2 L371.6 745.2 L372.6 745.2 L373.6 745.2 L374.6 745.2 L375.6 745.2 L376.6 745.2 L377.6 745.2 L378.6 745.2 L379.6 745.2 L380.6 745.2 L381.6 745.2 L382.6 745.2 L383.6 745.2 L384.6 745.2 L385.6 745.2 L386.6 745.2 L387.6 745.2 L388.6 745.2 L389.6 745.2 L390.6 745.2 L391.6 745.2 L392.6 745.2 L393.6 745.2 L394.6 745.2" fill="none" stroke="#dd0f20" stroke-width="1.7" stroke-linejoin="round" stroke-linecap="round"/>
<path d="M441.5 745.8 L441.5 745.6 L442.5 744.9 L443.5 743.7 L444.5 742 L445.5 740 L446.5 739 L447.5 737.9 L448.5 736.3 L449.5 734.9 L450.4 733.8 L451.4 732.8 L452.4 730.4 L453.4 727.6 L454.4 725 L455.4 723.8 L456.4 721.4 L457.4 719.4 L458.4 716.5 L459.4 714 L460.4 713.2 L461.4 711.1 L462.3 709.6 L463.3 709 L464.3 708 L465.3 706.3 L466.3 705.4 L467.3 705.1 L468.3 703.2 L469.3 703.3 L470.3 701.7 L471.3 701.2 L472.3 701.8 L473.3 701.7 L474.3 701 L475.2 701.2 L476.2 703 L477.2 703.3 L478.2 704.3 L479.2 708.5 L480.2 714.2 L481.2 719.1 L482.2 722.3 L483.2 724.6 L484.2 726.7 L485.2 730.4 L486.2 733.6 L487.1 737.5 L488.1 739.8 L489.1 740.8 L490.1 742.1 L491.1 743 L492.1 743.9 L493.1 745 L494.1 745.6 L494.1 745.8 Z" fill="#cbcbcb" stroke="none"/>
<path d="M413.7 746.1v2.2M449.6 746.1v2.2M473.9 746.1v2.2M498.1 746.1v2.2M432.7 746.1v1.4M436.9 746.1v1.4M440 746.1v1.4M442.3 746.1v1.4M444.2 746.1v1.4M445.9 746.1v1.4M447.3 746.1v1.4M448.5 746.1v1.4M456.9 746.1v1.4M461.2 746.1v1.4M464.2 746.1v1.4M466.5 746.1v1.4M468.4 746.1v1.4M470.1 746.1v1.4M471.5 746.1v1.4M472.7 746.1v1.4M481.2 746.1v1.4M485.4 746.1v1.4M488.4 746.1v1.4M490.8 746.1v1.4M492.7 746.1v1.4M494.3 746.1v1.4M495.7 746.1v1.4M497 746.1v1.4M416.7 746.1v1.4M419.8 746.1v1.4M422.8 746.1v1.4M425.4 746.1v1.4M410.7 746.1v1.4M407.6 746.1v1.4" stroke="#111" stroke-width="0.8" fill="none"/>
<rect x="403.1" y="694.2" width="101.1" height="51.6" fill="none" stroke="#1a1a1a" stroke-width="1"/>
<path d="M403.4 745.5 L403.4 694.6 L404.3 744.5 L405.3 744.5 L406.3 744.5 L407.3 744.5 L408.3 744.5 L409.3 744.5 L410.3 744.5 L411.3 744.5 L412.3 744.5 L413.3 744.5 L414.3 744.5 L415.3 744.5 L416.3 744.5 L417.3 744.5 L418.3 744.5 L419.3 744.5 L420.3 744.5 L421.3 744.5 L422.3 744.5 L423.3 744.4 L424.3 744.3 L425.3 744.3 L426.3 745 L427.3 744.3 L428.3 744 L429.3 743.8 L430.3 743.8 L431.3 743.4 L432.3 743.3 L433.3 742.9 L434.3 742.2 L435.3 742.4 L436.3 741.9 L437.3 741.2 L438.3 740.9 L439.3 740.8 L440.3 740.2 L441.3 740.2 L442.3 739.9 L443.3 738 L444.3 736 L445.3 734.2 L446.3 734 L447.3 733.7 L448.3 732.2 L449.3 731.8 L450.3 731.7 L451.3 730.5 L452.3 727.9 L453.3 725.9 L454.3 723.3 L455.3 722 L456.3 720.6 L457.3 718.4 L458.3 714.1 L459.3 711.2 L460.2 712.3 L461.2 711.3 L462.2 709.7 L463.2 706.4 L464.2 700.5 L465.2 699.2 L466.2 700.5 L467.2 702.2 L468.2 704.4 L469.2 706.3 L470.2 705.3 L471.2 701.2 L472.2 698.7 L473.2 704.7 L474.2 705.6 L475.2 707.1 L476.2 708.7 L477.2 709.5 L478.2 711.7 L479.2 716.1 L480.2 720.4 L481.2 724 L482.2 727 L483.2 729.9 L484.2 732.6 L485.2 734.1 L486.2 735.9 L487.2 738.7 L488.2 741.3 L489.2 742.7 L490.2 743.4 L491.2 744.2 L492.2 744.4 L493.2 744.8 L494.2 745.1 L495.2 745.2 L496.2 745.2 L497.2 745.2 L498.2 745.2 L499.2 745.2 L500.2 745.2 L501.2 745.2 L502.2 745.2 L503.2 745.2 L504.2 745.2" fill="none" stroke="#dd0f20" stroke-width="1.7" stroke-linejoin="round" stroke-linecap="round"/>
<path d="M96.9 804.8 L96.9 804.2 L97.9 803 L98.8 800.6 L99.8 798.1 L100.8 793.8 L101.8 788.3 L102.8 782.8 L103.8 776.5 L104.8 770.7 L105.8 766.6 L106.8 763 L107.7 760 L108.7 757.2 L109.7 758.4 L110.7 761.5 L111.7 763.6 L112.7 765.1 L113.7 769 L114.7 773.1 L115.7 776.6 L116.6 778.4 L117.6 781.2 L118.6 782.6 L119.6 785 L120.6 787.5 L121.6 789.2 L122.6 790.1 L123.6 791.1 L124.6 791.7 L125.5 793.3 L126.5 794.6 L127.5 794.5 L128.5 794.6 L129.5 795.1 L130.5 795.3 L131.5 795.1 L132.5 795.5 L133.5 795.7 L134.4 795.7 L135.4 796.4 L136.4 797.3 L137.4 797.8 L138.4 798 L139.4 797.8 L140.4 797.9 L141.4 797.5 L142.4 797.4 L143.3 797.8 L144.3 798.4 L145.3 798.4 L146.3 798.6 L147.3 798.9 L148.3 798.6 L149.3 799.1 L150.3 799 L151.3 799.4 L152.2 800 L153.2 800.5 L154.2 800.8 L155.2 801 L156.2 801.4 L157.2 801.9 L158.2 802.5 L159.2 802.5 L160.2 802.5 L161.2 802.4 L162.1 802.5 L163.1 803.1 L164.1 803.2 L165.1 803.4 L166.1 803.5 L167.1 803.6 L168.1 803.7 L169.1 803.8 L170.1 803.9 L171 804 L172 804.1 L173 804.1 L174 804.2 L175 804.2 L175 804.8 Z" fill="#cbcbcb" stroke="none"/>
<path d="M74.2 805.1v0.9M79.1 805.1v0.9M84.1 805.1v0.9M89 805.1v0.9M94 805.1v0.9M98.9 805.1v2.2M103.8 805.1v0.9M108.8 805.1v0.9M113.7 805.1v0.9M118.6 805.1v0.9M123.6 805.1v2.2M128.5 805.1v0.9M133.5 805.1v0.9M138.4 805.1v0.9M143.3 805.1v0.9M148.3 805.1v2.2M153.2 805.1v0.9M158.2 805.1v0.9M163.1 805.1v0.9M168 805.1v0.9M173 805.1v2.2" stroke="#111" stroke-width="0.8" fill="none"/>
<rect x="74.2" y="753.2" width="101.2" height="51.6" fill="none" stroke="#1a1a1a" stroke-width="1"/>
<path d="M74.2 804.2 L75.2 804.2 L76.2 804.2 L77.2 804.2 L78.2 804.2 L79.2 804.2 L80.2 804.2 L81.1 804.2 L82.1 804.2 L83.1 804.2 L84.1 804.2 L85.1 804.2 L86.1 804.2 L87.1 804.2 L88.1 804.2 L89.1 804.2 L90.1 804.2 L91.1 804.2 L92.1 804.2 L93.1 804.2 L94 804.2 L95 804.2 L96 804.2 L97 803.9 L98 801.9 L99 799.4 L100 796 L101 790.4 L102 783.8 L103 777.1 L104 771.5 L105 766.1 L105.9 761.4 L106.9 758.1 L107.9 757.3 L108.9 756.3 L109.9 756.4 L110.9 758 L111.9 760.5 L112.9 762.9 L113.9 765 L114.9 769.7 L115.9 774.9 L116.9 777.4 L117.9 778.5 L118.8 780.1 L119.8 783.4 L120.8 785.9 L121.8 787.8 L122.8 789 L123.8 789.7 L124.8 790.6 L125.8 791.8 L126.8 792.9 L127.8 794 L128.8 794.8 L129.8 794.3 L130.8 795 L131.7 795.3 L132.7 794.5 L133.7 794.6 L134.7 794.8 L135.7 795.2 L136.7 796 L137.7 796.7 L138.7 797.3 L139.7 797.7 L140.7 797.4 L141.7 797.3 L142.7 797.2 L143.7 797.5 L144.6 798 L145.6 798.3 L146.6 798.1 L147.6 798.4 L148.6 798.7 L149.6 798.7 L150.6 799.1 L151.6 799.5 L152.6 799.8 L153.6 800.3 L154.6 801.1 L155.6 801.3 L156.5 801.2 L157.5 801.4 L158.5 802 L159.5 802.1 L160.5 802.3 L161.5 802.5 L162.5 802.8 L163.5 803.2 L164.5 803.2 L165.5 803.3 L166.5 803.4 L167.5 803.5 L168.5 803.6 L169.4 803.7 L170.4 803.8 L171.4 803.9 L172.4 804 L173.4 804.1 L174.4 804.1 L175.4 804.2" fill="none" stroke="#dd0f20" stroke-width="1.7" stroke-linejoin="round" stroke-linecap="round"/>
<path d="M211.4 804.8 L211.4 802.6 L212.4 802.5 L213.4 802.8 L214.3 802.4 L215.3 801.5 L216.3 801.6 L217.3 801 L218.3 800.4 L219.3 800.1 L220.2 799.9 L221.2 800 L222.2 799.5 L223.2 798.4 L224.2 797.2 L225.2 796.3 L226.1 794.4 L227.1 793.1 L228.1 792.3 L229.1 791 L230.1 788.8 L231.1 786.1 L232 783.1 L233 781.1 L234 779.4 L235 776.5 L236 774 L237 770.9 L237.9 768 L238.9 766.4 L239.9 761 L240.9 758.3 L241.9 763.3 L242.9 761.6 L243.8 760.1 L244.8 761.7 L245.8 765.7 L246.8 768.4 L247.8 769.8 L248.8 774.1 L249.7 777.5 L250.7 777.9 L251.7 777.9 L252.7 780.9 L253.7 783.2 L254.7 785.3 L255.6 788 L256.6 788.9 L257.6 790.4 L258.6 792.3 L259.6 793.8 L260.6 795.3 L261.5 797.6 L262.5 799.2 L263.5 800.8 L264.5 802.1 L265.5 802.6 L266.5 802.5 L267.4 803.3 L268.4 803.6 L268.4 804.8 Z" fill="#cbcbcb" stroke="none"/>
<path d="M194.5 805.1v2.2M230.4 805.1v2.2M254.7 805.1v2.2M278.9 805.1v2.2M213.5 805.1v1.4M217.7 805.1v1.4M220.8 805.1v1.4M223.1 805.1v1.4M225 805.1v1.4M226.7 805.1v1.4M228.1 805.1v1.4M229.3 805.1v1.4M237.7 805.1v1.4M242 805.1v1.4M245 805.1v1.4M247.3 805.1v1.4M249.2 805.1v1.4M250.9 805.1v1.4M252.3 805.1v1.4M253.5 805.1v1.4M262 805.1v1.4M266.2 805.1v1.4M269.2 805.1v1.4M271.6 805.1v1.4M273.5 805.1v1.4M275.1 805.1v1.4M276.5 805.1v1.4M277.8 805.1v1.4M197.5 805.1v1.4M200.6 805.1v1.4M203.6 805.1v1.4M206.2 805.1v1.4M191.5 805.1v1.4M188.4 805.1v1.4" stroke="#111" stroke-width="0.8" fill="none"/>
<rect x="183.9" y="753.2" width="101.1" height="51.6" fill="none" stroke="#1a1a1a" stroke-width="1"/>
<path d="M183.9 803.3 L184.9 803.3 L185.9 803.3 L186.9 803.3 L187.9 803.3 L188.9 803.3 L189.8 803.3 L190.8 803.3 L191.8 803.3 L192.8 803.3 L193.8 803.3 L194.8 803.3 L195.8 803.3 L196.8 803.3 L197.8 803.3 L198.8 803.3 L199.8 803.3 L200.8 803.3 L201.7 803.3 L202.7 803.3 L203.7 803.3 L204.7 803.5 L205.7 803.5 L206.7 803.7 L207.7 803.7 L208.7 803 L209.7 802.5 L210.7 802.3 L211.7 802 L212.6 802.1 L213.6 802 L214.6 800.8 L215.6 800.8 L216.6 800.8 L217.6 799.9 L218.6 799.5 L219.6 799.1 L220.6 799 L221.6 798 L222.6 796.9 L223.5 795.3 L224.5 793.1 L225.5 792.1 L226.5 791.1 L227.5 790.3 L228.5 788 L229.5 785.3 L230.5 781.9 L231.5 779.7 L232.5 777.1 L233.5 775.4 L234.4 772.5 L235.4 769.4 L236.4 765.5 L237.4 764.5 L238.4 762.2 L239.4 759.1 L240.4 757.3 L241.4 755.5 L242.4 756.6 L243.4 759 L244.4 759 L245.4 758 L246.3 761.7 L247.3 763.9 L248.3 767.2 L249.3 770.2 L250.3 771.8 L251.3 772.9 L252.3 775.4 L253.3 777.3 L254.3 780.6 L255.3 783.6 L256.3 785.3 L257.2 787.1 L258.2 789.9 L259.2 791.9 L260.2 793 L261.2 795.6 L262.2 797.6 L263.2 798.5 L264.2 799.6 L265.2 801 L266.2 802.2 L267.2 802.8 L268.1 802.9 L269.1 803.4 L270.1 803.6 L271.1 803.8 L272.1 803.9 L273.1 804 L274.1 804.1 L275.1 804.2 L276.1 804.2 L277.1 804.2 L278.1 804.2 L279.1 804.2 L280 804.2 L281 804.2 L282 804.1 L283 804.1 L284 804.1 L285 804" fill="none" stroke="#dd0f20" stroke-width="1.7" stroke-linejoin="round" stroke-linecap="round"/>
<path d="M312.2 804.8 L312.2 802.1 L313.2 801.8 L314.2 802.1 L315.1 801.7 L316.1 801.1 L317.1 800.5 L318.1 800.2 L319.1 799.9 L320.1 799.4 L321.1 799 L322.1 798.9 L323 798.2 L324 797.2 L325 796.3 L326 795.4 L327 794.6 L328 792.6 L329 791.4 L330 789.8 L330.9 788.4 L331.9 785.5 L332.9 783.4 L333.9 782.2 L334.9 779.2 L335.9 776.3 L336.9 772.4 L337.8 769.7 L338.8 766.7 L339.8 763.1 L340.8 759.6 L341.8 758.5 L342.8 761 L343.8 760 L344.8 760.5 L345.7 761.2 L346.7 764.2 L347.7 765.3 L348.7 767.6 L349.7 770.6 L350.7 772.4 L351.7 774.3 L352.7 776.6 L353.6 779.5 L354.6 782 L355.6 786.2 L356.6 789.5 L357.6 791.7 L358.6 794.3 L359.6 796.5 L360.6 797.7 L361.5 799.7 L362.5 801.4 L363.5 801.9 L364.5 802.7 L364.5 804.8 Z" fill="#cbcbcb" stroke="none"/>
<path d="M304.2 805.1v2.2M340.1 805.1v2.2M364.3 805.1v2.2M388.5 805.1v2.2M323.2 805.1v1.4M327.4 805.1v1.4M330.4 805.1v1.4M332.8 805.1v1.4M334.7 805.1v1.4M336.3 805.1v1.4M337.7 805.1v1.4M339 805.1v1.4M347.3 805.1v1.4M351.6 805.1v1.4M354.6 805.1v1.4M357 805.1v1.4M358.9 805.1v1.4M360.5 805.1v1.4M361.9 805.1v1.4M363.1 805.1v1.4M371.6 805.1v1.4M375.8 805.1v1.4M378.9 805.1v1.4M381.2 805.1v1.4M383.1 805.1v1.4M384.7 805.1v1.4M386.1 805.1v1.4M387.4 805.1v1.4M307.2 805.1v1.4M310.3 805.1v1.4M313.3 805.1v1.4M315.9 805.1v1.4M301.2 805.1v1.4M298.1 805.1v1.4" stroke="#111" stroke-width="0.8" fill="none"/>
<rect x="293.6" y="753.2" width="101" height="51.6" fill="none" stroke="#1a1a1a" stroke-width="1"/>
<path d="M293.9 804.5 L293.9 775.8 L294.6 802.7 L295.6 803.4 L296.6 803 L297.6 802 L298.6 801.8 L299.6 802.5 L300.6 802.8 L301.6 803 L302.6 803.3 L303.6 803.1 L304.6 802.7 L305.6 802.2 L306.6 802.2 L307.6 802.3 L308.6 802.5 L309.6 802.3 L310.6 802.3 L311.6 801.1 L312.6 801 L313.6 801.3 L314.6 801.2 L315.6 801 L316.6 800.4 L317.6 799.5 L318.6 799.7 L319.6 799.5 L320.6 798.3 L321.6 796.8 L322.6 796.4 L323.6 795.9 L324.6 794.8 L325.6 794.8 L326.6 793.6 L327.6 791.5 L328.6 789.7 L329.6 787.3 L330.6 785.7 L331.6 782.9 L332.6 779.7 L333.6 776.6 L334.6 773.6 L335.6 770.7 L336.6 767.3 L337.6 764.6 L338.6 762.7 L339.6 759.6 L340.6 758.3 L341.6 758.9 L342.6 757 L343.6 756 L344.6 756.4 L345.6 757.4 L346.6 759.2 L347.6 760.7 L348.6 762.1 L349.6 766 L350.6 769.6 L351.6 771.1 L352.6 772.4 L353.6 776.1 L354.6 778.4 L355.6 780.1 L356.6 785.4 L357.6 789.1 L358.6 791.9 L359.6 794.8 L360.6 797.3 L361.6 798.6 L362.6 800 L363.6 801.2 L364.6 801.9 L365.6 803 L366.6 803.3 L367.6 803.6 L368.6 803.9 L369.6 804 L370.6 804 L371.6 804 L372.6 804 L373.6 804 L374.6 804.1 L375.6 804.1 L376.6 804.1 L377.6 804.1 L378.6 804.1 L379.6 804.1 L380.6 804.1 L381.6 804.1 L382.6 804.1 L383.6 804.2 L384.6 804.2 L385.6 804.2 L386.6 804.2 L387.6 804.2 L388.6 804.2 L389.6 804.2 L390.6 804.2 L391.6 804.2 L392.6 804.2 L393.6 804.2 L394.6 804.2" fill="none" stroke="#dd0f20" stroke-width="1.7" stroke-linejoin="round" stroke-linecap="round"/>
<path d="M439.7 804.8 L439.7 801.9 L440.7 801.6 L441.7 800.9 L442.7 800.6 L443.7 800.6 L444.7 800.3 L445.7 799.7 L446.7 799.5 L447.7 799.7 L448.7 799.1 L449.7 798.2 L450.7 797.7 L451.7 798 L452.7 797.7 L453.6 796.9 L454.6 796.8 L455.6 795.5 L456.6 793.8 L457.6 793.3 L458.6 793.3 L459.6 791.3 L460.6 790.3 L461.6 790.4 L462.6 789.2 L463.6 787.6 L464.6 785.2 L465.6 782.1 L466.6 781.8 L467.6 780.9 L468.6 778.6 L469.6 776.5 L470.6 774.2 L471.6 772.1 L472.6 770 L473.6 767.1 L474.6 765 L475.6 761.9 L476.6 761.3 L477.6 758.2 L478.6 758.5 L479.5 760.9 L480.5 763.3 L481.5 767.3 L482.5 772.2 L483.5 774.8 L484.5 777.7 L485.5 783.3 L486.5 787.1 L487.5 789.6 L488.5 794 L489.5 797.5 L490.5 800.3 L491.5 801.4 L492.5 802.2 L493.5 803.1 L494.5 803.5 L494.5 804.8 Z" fill="#cbcbcb" stroke="none"/>
<path d="M413.7 805.1v2.2M449.6 805.1v2.2M473.9 805.1v2.2M498.1 805.1v2.2M432.7 805.1v1.4M436.9 805.1v1.4M440 805.1v1.4M442.3 805.1v1.4M444.2 805.1v1.4M445.9 805.1v1.4M447.3 805.1v1.4M448.5 805.1v1.4M456.9 805.1v1.4M461.2 805.1v1.4M464.2 805.1v1.4M466.5 805.1v1.4M468.4 805.1v1.4M470.1 805.1v1.4M471.5 805.1v1.4M472.7 805.1v1.4M481.2 805.1v1.4M485.4 805.1v1.4M488.4 805.1v1.4M490.8 805.1v1.4M492.7 805.1v1.4M494.3 805.1v1.4M495.7 805.1v1.4M497 805.1v1.4M416.7 805.1v1.4M419.8 805.1v1.4M422.8 805.1v1.4M425.4 805.1v1.4M410.7 805.1v1.4M407.6 805.1v1.4" stroke="#111" stroke-width="0.8" fill="none"/>
<rect x="403.1" y="753.2" width="101.1" height="51.6" fill="none" stroke="#1a1a1a" stroke-width="1"/>
<path d="M403.4 804.5 L403.4 777.9 L404.3 803.5 L405.3 803.5 L406.3 803.5 L407.3 803.5 L408.3 803.5 L409.3 803.5 L410.3 803.5 L411.3 803.5 L412.3 803.5 L413.3 803.5 L414.3 803.5 L415.3 803.4 L416.3 803.4 L417.3 803.4 L418.3 803.4 L419.3 803.4 L420.3 803.4 L421.3 803.3 L422.3 803.3 L423.3 803.3 L424.3 803.3 L425.3 803.3 L426.3 802.8 L427.3 802.7 L428.3 803 L429.3 802.7 L430.3 802.9 L431.3 803 L432.3 802.9 L433.3 802.7 L434.3 802.5 L435.3 802.7 L436.3 802.6 L437.3 802.4 L438.3 801.9 L439.3 801.9 L440.3 801.8 L441.3 801.3 L442.3 801 L443.3 800.8 L444.3 800.4 L445.3 799.6 L446.3 798.9 L447.3 798.5 L448.3 798.1 L449.3 797.9 L450.3 797.9 L451.3 796.9 L452.3 797.1 L453.3 796.6 L454.3 795.7 L455.3 795.6 L456.3 793.4 L457.3 792 L458.3 791.7 L459.3 790.7 L460.2 790.3 L461.2 789.8 L462.2 788.6 L463.2 787 L464.2 785.5 L465.2 783.2 L466.2 781 L467.2 779.9 L468.2 777.7 L469.2 774.9 L470.2 772.3 L471.2 770.4 L472.2 769.6 L473.2 766.6 L474.2 762.9 L475.2 760 L476.2 759 L477.2 755.9 L478.2 754.3 L479.2 757.2 L480.2 760.4 L481.2 764.7 L482.2 768.1 L483.2 772.3 L484.2 775.6 L485.2 778.8 L486.2 783.2 L487.2 787.8 L488.2 791.5 L489.2 794.4 L490.2 797.2 L491.2 799.2 L492.2 800.9 L493.2 801.8 L494.2 803.1 L495.2 803.5 L496.2 803.7 L497.2 803.8 L498.2 803.9 L499.2 804 L500.2 804.1 L501.2 804.1 L502.2 804.2 L503.2 804.2 L504.2 804.2" fill="none" stroke="#dd0f20" stroke-width="1.7" stroke-linejoin="round" stroke-linecap="round"/>
<path d="M95.9 863.8 L95.9 863.2 L96.8 862.4 L97.8 860.1 L98.8 857.7 L99.8 853.2 L100.8 846.3 L101.8 838.7 L102.8 829.6 L103.8 823.4 L104.8 817.3 L105.7 817.9 L106.7 822.5 L107.7 829.3 L108.7 835.1 L109.7 839.7 L110.7 843.7 L111.7 846.8 L112.7 849.7 L113.7 851.5 L114.7 853.3 L115.6 854.3 L116.6 855.4 L117.6 856.6 L118.6 857.7 L119.6 858.7 L120.6 859.1 L121.6 859.6 L122.6 859.7 L123.6 860 L124.5 860.4 L125.5 860.2 L126.5 860.1 L127.5 859.9 L128.5 859.3 L129.5 859.2 L130.5 859.3 L131.5 859.4 L132.5 859.3 L133.4 859.2 L134.4 859.1 L135.4 858.8 L136.4 859 L137.4 859.1 L138.4 859 L139.4 859 L140.4 859.4 L141.4 860.1 L142.4 860.3 L143.3 860.7 L144.3 861 L145.3 861.1 L146.3 861.5 L147.3 862 L148.3 862 L149.3 862.2 L150.3 862.3 L151.3 862.5 L152.2 862.6 L153.2 862.7 L154.2 862.8 L155.2 862.9 L156.2 863 L157.2 863.1 L158.2 863.1 L159.2 863.2 L160.2 863.2 L161.1 863.2 L162.1 863.2 L163.1 863.2 L164.1 863.2 L165.1 863.2 L166.1 863.2 L167.1 863.2 L168.1 863.2 L169.1 863.2 L170 863.2 L171 863.2 L172 863.2 L173 863.2 L174 863.2 L175 863.2 L175 863.8 Z" fill="#cbcbcb" stroke="none"/>
<path d="M74.2 864.1v0.9M79.1 864.1v0.9M84.1 864.1v0.9M89 864.1v0.9M94 864.1v0.9M98.9 864.1v2.2M103.8 864.1v0.9M108.8 864.1v0.9M113.7 864.1v0.9M118.6 864.1v0.9M123.6 864.1v2.2M128.5 864.1v0.9M133.5 864.1v0.9M138.4 864.1v0.9M143.3 864.1v0.9M148.3 864.1v2.2M153.2 864.1v0.9M158.2 864.1v0.9M163.1 864.1v0.9M168 864.1v0.9M173 864.1v2.2" stroke="#111" stroke-width="0.8" fill="none"/>
<rect x="74.2" y="812.2" width="101.2" height="51.6" fill="none" stroke="#1a1a1a" stroke-width="1"/>
<path d="M74.2 863.2 L75.2 863.2 L76.2 863.2 L77.2 863.2 L78.2 863.2 L79.2 863.2 L80.2 863.2 L81.1 863.2 L82.1 863.2 L83.1 863.2 L84.1 863.2 L85.1 863.2 L86.1 863.2 L87.1 863.2 L88.1 863.2 L89.1 863.2 L90.1 863.2 L91.1 863.2 L92.1 863.2 L93.1 863.2 L94 863.2 L95 863.2 L96 862.9 L97 861 L98 858.6 L99 855.7 L100 849.1 L101 840.6 L102 831 L103 822.1 L104 816.1 L105 813.7 L105.9 814.8 L106.9 818.2 L107.9 825.2 L108.9 831.9 L109.9 837.6 L110.9 842.8 L111.9 846.6 L112.9 849.1 L113.9 850.4 L114.9 851.5 L115.9 853.7 L116.9 854.5 L117.9 855.9 L118.8 857.2 L119.8 858.7 L120.8 859.3 L121.8 859.2 L122.8 859.5 L123.8 859.8 L124.8 860.2 L125.8 860 L126.8 859.9 L127.8 859.7 L128.8 859.3 L129.8 859.1 L130.8 858.8 L131.7 859 L132.7 859 L133.7 858.4 L134.7 858.2 L135.7 858.3 L136.7 858.4 L137.7 858.8 L138.7 859 L139.7 859 L140.7 859.3 L141.7 859.8 L142.7 860.1 L143.7 860.1 L144.6 860.2 L145.6 860.8 L146.6 861.3 L147.6 861.5 L148.6 861.8 L149.6 861.9 L150.6 862.4 L151.6 862.3 L152.6 862.5 L153.6 862.6 L154.6 862.7 L155.6 862.8 L156.5 862.9 L157.5 863 L158.5 863.1 L159.5 863.1 L160.5 863.2 L161.5 863.2 L162.5 863.2 L163.5 863.2 L164.5 863.2 L165.5 863.2 L166.5 863.2 L167.5 863.2 L168.5 863.2 L169.4 863.2 L170.4 863.2 L171.4 863.2 L172.4 863.2 L173.4 863.2 L174.4 863.2 L175.4 863.2" fill="none" stroke="#dd0f20" stroke-width="1.7" stroke-linejoin="round" stroke-linecap="round"/>
<path d="M209 863.8 L209 861.6 L210 861.3 L211 861.4 L211.9 861.8 L212.9 861.3 L213.9 860.5 L214.9 860.9 L215.9 860.5 L216.9 859.7 L217.9 858.6 L218.9 857.6 L219.9 856.9 L220.9 856.3 L221.9 855.8 L222.9 854.3 L223.9 852.6 L224.8 852.4 L225.8 851.7 L226.8 850.9 L227.8 849.7 L228.8 848.1 L229.8 845.8 L230.8 842.5 L231.8 841.7 L232.8 840.1 L233.8 838.6 L234.8 835.1 L235.8 831.3 L236.7 827.9 L237.7 825.8 L238.7 823.5 L239.7 819.8 L240.7 816.4 L241.7 819.1 L242.7 823.5 L243.7 823.9 L244.7 825.9 L245.7 826.9 L246.7 828.8 L247.7 832.9 L248.6 837.9 L249.6 839.6 L250.6 842.6 L251.6 845 L252.6 846.7 L253.6 847.1 L254.6 849 L255.6 850.5 L256.6 852.9 L257.6 854.8 L258.6 855.6 L259.6 856.3 L260.5 857.1 L261.5 857.8 L262.5 858.9 L263.5 859.2 L264.5 860.2 L265.5 861.2 L266.5 862.6 L266.5 863.8 Z" fill="#cbcbcb" stroke="none"/>
<path d="M194.5 864.1v2.2M230.4 864.1v2.2M254.7 864.1v2.2M278.9 864.1v2.2M213.5 864.1v1.4M217.7 864.1v1.4M220.8 864.1v1.4M223.1 864.1v1.4M225 864.1v1.4M226.7 864.1v1.4M228.1 864.1v1.4M229.3 864.1v1.4M237.7 864.1v1.4M242 864.1v1.4M245 864.1v1.4M247.3 864.1v1.4M249.2 864.1v1.4M250.9 864.1v1.4M252.3 864.1v1.4M253.5 864.1v1.4M262 864.1v1.4M266.2 864.1v1.4M269.2 864.1v1.4M271.6 864.1v1.4M273.5 864.1v1.4M275.1 864.1v1.4M276.5 864.1v1.4M277.8 864.1v1.4M197.5 864.1v1.4M200.6 864.1v1.4M203.6 864.1v1.4M206.2 864.1v1.4M191.5 864.1v1.4M188.4 864.1v1.4" stroke="#111" stroke-width="0.8" fill="none"/>
<rect x="183.9" y="812.2" width="101.1" height="51.6" fill="none" stroke="#1a1a1a" stroke-width="1"/>
<path d="M184.2 863.5 L184.2 859.6 L184.9 862.8 L185.9 862.8 L186.9 862.8 L187.9 862.8 L188.9 862.8 L189.9 862.8 L190.9 862.8 L191.8 862.8 L192.8 862.8 L193.8 862.8 L194.8 862.8 L195.8 862.8 L196.8 862.8 L197.8 862.8 L198.8 862.8 L199.8 862.8 L200.8 862.8 L201.8 862.8 L202.7 862.8 L203.7 862.8 L204.7 862.7 L205.7 862.5 L206.7 862.8 L207.7 861.9 L208.7 861 L209.7 860.3 L210.7 860.2 L211.7 860.4 L212.7 860.8 L213.6 860.9 L214.6 859.7 L215.6 858.8 L216.6 858.9 L217.6 858.4 L218.6 857.6 L219.6 856.6 L220.6 855.6 L221.6 853.8 L222.6 853.2 L223.6 852.3 L224.6 851.3 L225.5 849.7 L226.5 848.1 L227.5 846.8 L228.5 845 L229.5 841.9 L230.5 839.8 L231.5 838.3 L232.5 835.9 L233.5 831.4 L234.5 829.2 L235.5 826.6 L236.4 824 L237.4 821.3 L238.4 818.8 L239.4 817.8 L240.4 817.5 L241.4 815.7 L242.4 813.8 L243.4 816.4 L244.4 819.4 L245.4 823.1 L246.4 827.5 L247.3 829.8 L248.3 832.8 L249.3 835.1 L250.3 837.9 L251.3 841.2 L252.3 842.5 L253.3 844.3 L254.3 846.2 L255.3 848.7 L256.3 849.9 L257.3 850.9 L258.2 853.8 L259.2 855.4 L260.2 856 L261.2 856.7 L262.2 857.9 L263.2 859 L264.2 860 L265.2 860.8 L266.2 861.3 L267.2 861.9 L268.2 862.1 L269.1 862.4 L270.1 862.6 L271.1 862.9 L272.1 863.1 L273.1 863.2 L274.1 863.2 L275.1 863.2 L276.1 863.2 L277.1 863.2 L278.1 863.2 L279.1 863.2 L280 863.2 L281 863.2 L282 863.2 L283 863.2 L284 863.2 L285 863.2" fill="none" stroke="#dd0f20" stroke-width="1.7" stroke-linejoin="round" stroke-linecap="round"/>
<path d="M294.6 863.8 L294.6 858.6 L295.6 858.5 L296.6 858.7 L297.6 858.5 L298.6 858.4 L299.6 858.5 L300.6 858.3 L301.6 857.7 L302.6 857.2 L303.5 856.7 L304.5 856 L305.5 855.7 L306.5 855.2 L307.5 854.6 L308.5 853.7 L309.5 853 L310.5 852.5 L311.5 853.2 L312.5 852.8 L313.5 851.1 L314.5 848.9 L315.5 848.7 L316.4 848.5 L317.4 847.4 L318.4 845.8 L319.4 843.9 L320.4 843.8 L321.4 842.4 L322.4 840.5 L323.4 836.9 L324.4 833.2 L325.4 830.5 L326.4 827.1 L327.4 823.8 L328.4 819.2 L329.4 816.2 L330.3 814 L331.3 814.9 L332.3 819.4 L333.3 817.5 L334.3 816.2 L335.3 816.5 L336.3 815.3 L337.3 817.4 L338.3 820.8 L339.3 822.6 L340.3 827 L341.3 831.6 L342.3 836.1 L343.2 840.6 L344.2 846.6 L345.2 852.6 L346.2 856.5 L347.2 858.6 L348.2 860 L349.2 861.3 L350.2 862.3 L351.2 863 L352.2 863.6 L352.2 863.8 Z" fill="#cbcbcb" stroke="none"/>
<path d="M304.2 864.1v2.2M340.1 864.1v2.2M364.3 864.1v2.2M388.5 864.1v2.2M323.2 864.1v1.4M327.4 864.1v1.4M330.4 864.1v1.4M332.8 864.1v1.4M334.7 864.1v1.4M336.3 864.1v1.4M337.7 864.1v1.4M339 864.1v1.4M347.3 864.1v1.4M351.6 864.1v1.4M354.6 864.1v1.4M357 864.1v1.4M358.9 864.1v1.4M360.5 864.1v1.4M361.9 864.1v1.4M363.1 864.1v1.4M371.6 864.1v1.4M375.8 864.1v1.4M378.9 864.1v1.4M381.2 864.1v1.4M383.1 864.1v1.4M384.7 864.1v1.4M386.1 864.1v1.4M387.4 864.1v1.4M307.2 864.1v1.4M310.3 864.1v1.4M313.3 864.1v1.4M315.9 864.1v1.4M301.2 864.1v1.4M298.1 864.1v1.4" stroke="#111" stroke-width="0.8" fill="none"/>
<rect x="293.6" y="812.2" width="101" height="51.6" fill="none" stroke="#1a1a1a" stroke-width="1"/>
<path d="M293.9 863.5 L293.9 825.5 L294.6 859.5 L295.6 859.7 L296.6 859.3 L297.6 859.4 L298.6 859.1 L299.6 859.6 L300.6 859.5 L301.6 858.3 L302.6 857.5 L303.6 857.6 L304.6 858.1 L305.6 857.1 L306.6 856 L307.6 855.6 L308.6 855.6 L309.6 855.6 L310.6 855.7 L311.6 854.9 L312.6 854.8 L313.6 855 L314.6 853.7 L315.6 852.7 L316.6 850.5 L317.6 849.9 L318.6 849.4 L319.6 848 L320.6 846.8 L321.6 845.6 L322.6 844 L323.6 842.2 L324.6 841.3 L325.6 839.6 L326.6 835.1 L327.6 832 L328.6 831 L329.6 828.8 L330.6 827.1 L331.6 825.9 L332.6 823.5 L333.6 822.7 L334.6 821.4 L335.6 820.2 L336.6 819.4 L337.6 815.9 L338.6 814.9 L339.6 820.3 L340.6 824.3 L341.6 825.6 L342.6 827.1 L343.6 829.3 L344.6 833.2 L345.6 838 L346.6 843.2 L347.6 848 L348.6 851 L349.6 853.5 L350.6 856.7 L351.6 858.1 L352.6 859.3 L353.6 860.8 L354.6 862.1 L355.6 862.3 L356.6 862.5 L357.6 862.7 L358.6 862.8 L359.6 862.8 L360.6 862.8 L361.6 862.9 L362.6 862.9 L363.6 862.9 L364.6 862.9 L365.6 863 L366.6 863 L367.6 863 L368.6 863 L369.6 863 L370.6 863 L371.6 863.1 L372.6 863.1 L373.6 863.1 L374.6 863.1 L375.6 863.1 L376.6 863.1 L377.6 863.1 L378.6 863.1 L379.6 863.1 L380.6 863.1 L381.6 863.1 L382.6 863.2 L383.6 863.2 L384.6 863.2 L385.6 863.2 L386.6 863.2 L387.6 863.2 L388.6 863.2 L389.6 863.2 L390.6 863.2 L391.6 863.2 L392.6 863.2 L393.6 863.2 L394.6 863.2" fill="none" stroke="#dd0f20" stroke-width="1.7" stroke-linejoin="round" stroke-linecap="round"/>
<path d="M432.4 863.8 L432.4 863.6 L433.4 862.8 L434.4 862.2 L435.4 860.9 L436.4 859.2 L437.4 858.3 L438.4 856.8 L439.4 855.3 L440.4 853.8 L441.4 851.8 L442.3 851 L443.3 848.6 L444.3 846.6 L445.3 844.6 L446.3 839.9 L447.3 835.9 L448.3 833.5 L449.3 832 L450.3 829.3 L451.3 827.4 L452.3 825.2 L453.3 823.6 L454.3 823.9 L455.2 821.6 L456.2 819.3 L457.2 818.8 L458.2 818.1 L459.2 819.7 L460.2 821.2 L461.2 822.6 L462.2 823 L463.2 823.1 L464.2 823.2 L465.2 823.3 L466.2 824.5 L467.2 828 L468.2 830.5 L469.1 831.6 L470.1 833.9 L471.1 836.5 L472.1 838.7 L473.1 840.6 L474.1 846.6 L475.1 851 L476.1 854 L477.1 854.7 L478.1 856.9 L479.1 859.1 L480.1 860.3 L481.1 860.4 L482 861 L483 861.7 L484 862.4 L485 862.9 L486 863.4 L487 863.6 L487 863.8 Z" fill="#cbcbcb" stroke="none"/>
<path d="M413.7 864.1v2.2M449.6 864.1v2.2M473.9 864.1v2.2M498.1 864.1v2.2M432.7 864.1v1.4M436.9 864.1v1.4M440 864.1v1.4M442.3 864.1v1.4M444.2 864.1v1.4M445.9 864.1v1.4M447.3 864.1v1.4M448.5 864.1v1.4M456.9 864.1v1.4M461.2 864.1v1.4M464.2 864.1v1.4M466.5 864.1v1.4M468.4 864.1v1.4M470.1 864.1v1.4M471.5 864.1v1.4M472.7 864.1v1.4M481.2 864.1v1.4M485.4 864.1v1.4M488.4 864.1v1.4M490.8 864.1v1.4M492.7 864.1v1.4M494.3 864.1v1.4M495.7 864.1v1.4M497 864.1v1.4M416.7 864.1v1.4M419.8 864.1v1.4M422.8 864.1v1.4M425.4 864.1v1.4M410.7 864.1v1.4M407.6 864.1v1.4" stroke="#111" stroke-width="0.8" fill="none"/>
<rect x="403.1" y="812.2" width="101.1" height="51.6" fill="none" stroke="#1a1a1a" stroke-width="1"/>
<path d="M403.4 863.5 L403.4 812.6 L404.3 859 L405.3 858.9 L406.3 859.2 L407.3 859.4 L408.3 859.5 L409.3 859 L410.3 859.3 L411.3 859.5 L412.3 860.2 L413.3 860.4 L414.3 860.3 L415.3 860.3 L416.3 859.5 L417.3 859.6 L418.3 859.8 L419.3 859.6 L420.3 859.5 L421.3 859.9 L422.3 860.1 L423.3 859.7 L424.3 859.3 L425.3 858.8 L426.3 858.3 L427.3 857.9 L428.3 857.5 L429.3 856.9 L430.3 856.4 L431.3 856 L432.3 854.6 L433.3 853.5 L434.3 853.6 L435.3 853.7 L436.3 852.4 L437.3 851.7 L438.3 850.3 L439.3 849.3 L440.3 847.5 L441.3 844.9 L442.3 844 L443.3 842.6 L444.3 839.2 L445.3 838.2 L446.3 837.4 L447.3 833.8 L448.3 830.9 L449.3 828.3 L450.3 825.7 L451.3 824.6 L452.3 822 L453.3 820.1 L454.3 818.9 L455.3 818.5 L456.3 817.7 L457.3 818.7 L458.3 818.9 L459.3 816.3 L460.2 816.6 L461.2 819.4 L462.2 822.9 L463.2 827.6 L464.2 831.5 L465.2 834.1 L466.2 836 L467.2 837.2 L468.2 840.5 L469.2 843.6 L470.2 846.2 L471.2 849 L472.2 850.9 L473.2 853.3 L474.2 855.1 L475.2 856.1 L476.2 857.5 L477.2 859 L478.2 859 L479.2 859.1 L480.2 859.9 L481.2 860.8 L482.2 861 L483.2 861 L484.2 861.2 L485.2 861.5 L486.2 862.2 L487.2 862.2 L488.2 862.3 L489.2 862.4 L490.2 862.5 L491.2 862.6 L492.2 862.7 L493.2 862.7 L494.2 862.8 L495.2 862.9 L496.2 862.9 L497.2 863 L498.2 863 L499.2 863.1 L500.2 863.1 L501.2 863.1 L502.2 863.2 L503.2 863.2 L504.2 863.2" fill="none" stroke="#dd0f20" stroke-width="1.7" stroke-linejoin="round" stroke-linecap="round"/>
<path d="M425.4 879.2 L428 878 L429.8 873.8 L431.2 870.7 L432.8 873.4 L435 877 L438.5 878.6 L442.7 879.2 Z" fill="#cbcbcb"/>
<path d="M425.4 891 L427.6 889.5 L430.6 884 L433.2 886.5 L436.2 890.5 L439.2 891.8 L442.7 892.4" fill="none" stroke="#dd0f20" stroke-width="1.8" stroke-linejoin="round" stroke-linecap="round"/>
<text x="447.3" y="877" font-size="11.5" text-anchor="start" font-weight="normal" font-style="normal" >wt</text>
<text x="447.3" y="892" font-size="11.5" text-anchor="start" font-weight="normal" font-style="normal" >CD19-hBtk</text>
</svg>
</body></html>
